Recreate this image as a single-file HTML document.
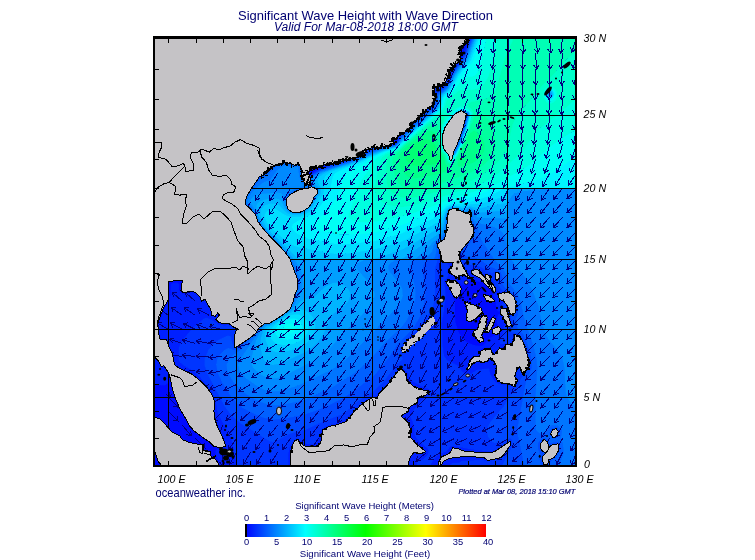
<!DOCTYPE html>
<html><head><meta charset="utf-8"><title>Significant Wave Height with Wave Direction</title><style>html,body{margin:0;padding:0;background:#fff}</style></head><body>
<svg width="755" height="560" viewBox="0 0 755 560" style="display:block">
<rect width="755" height="560" fill="#fff"/>
<defs><clipPath id="mc"><rect x="154" y="38" width="422" height="428"/></clipPath></defs>
<g clip-path="url(#mc)">
<rect x="150" y="32" width="432" height="440" fill="#0030ff"/>
<defs><clipPath id="ra"><rect x="150" y="32" width="432" height="156.5"/></clipPath><clipPath id="rb"><rect x="150" y="188.5" width="357.5" height="71"/></clipPath><clipPath id="rc"><rect x="507.5" y="188.5" width="74.5" height="283.5"/></clipPath><clipPath id="rd"><rect x="150" y="259.5" width="357.5" height="212.5"/></clipPath></defs>
<g shape-rendering="crispEdges" stroke-width="0.6" stroke-linejoin="round"><g clip-path="url(#ra)"><path fill="#000bff" stroke="#000bff" d="M468,34 469.5,35 469.3,38 462.4,56 459,62 455.3,65 450,71.5 449.2,71 449.3,68 458.7,53 465,36.1ZM447,73.3 447.5,74 447,77.8 446.4,77ZM396,136.6 396.6,137 397.1,140 396,143.5 390,144.2 387.2,143 390,139.1ZM315,166.7 321,165.8 322.8,167 318,168.5 316.8,170 309,174.6 306.2,173 307.2,170Z"/><path fill="#0020ff" stroke="#0020ff" d="M465,34.1 468,32.8 471.2,35 470.8,38 465,53.1 460.1,62 452,71 444.4,86 441,88.1 438.1,86 440.9,83 446.7,68 456.8,53 462.1,38ZM465.8,35 464,38 458.7,53 449.3,68 449.2,71 450,71.5 455.3,65 459,62 462.4,56 469.3,38 469.5,35 468,34ZM446.8,74 446.4,77 447,77.8 447.5,74 447,73.3ZM435,91 435.6,92 435.5,98 435,100 433.4,101 432,105.1 431.2,104 432,95.7 433.5,92ZM429,106.5 429.7,107 429,107.4 428.5,107ZM426,109.7 426.2,110 426,110.2 425.7,110ZM393,136.2 396,135.5 398.6,137 397,143 396,144 390,145.5 387,145.2 385.6,143 387.9,140ZM394,137 390,139.1 387.2,143 390,144.2 396,143.5 397.1,140 396.6,137ZM363,151.9 363.4,152 363,153.1 362.7,152ZM357,154.5 360,153.8 362.4,155 357,155.7 355.3,155ZM348,157.7 350.2,158 348,158.5 346.7,158ZM333,161 342,159.6 345,161 336,162.8 334.7,164 330,165 326.3,167 321,168.5 315,171.8 309,176.3 306,175.1 304.5,173 305,170 309,167.5 318.3,164ZM314.2,167 307.2,170 306.2,173 309,174.6 316.8,170 318,168.5 322.8,167 321,165.8ZM153,174.8 159,179.3 169.4,191 151.3,191Z"/><path fill="#0035ff" stroke="#0035ff" d="M465,32.9 468.8,32 471,33.4 472,35 471.7,38 465,55.7 462,60.9 453.5,71 445.6,86 444,88.1 438,92.2 436.4,95 435.1,104 433,107 417,120.3 414,119.1 428.3,104 429.7,101 430.7,92 431.8,89 438.9,83 445,68 454.9,53 460.4,38ZM464.1,35 462,38.2 456.8,53 446.7,68 440.9,83 438.1,86 441,88.1 444.4,86 452,71 460.1,62 465,53.1 470.8,38 471.2,35 468,32.8ZM433.5,92 432,95.7 431.2,104 432,105.1 433.4,101 435,100 435.5,98 435.6,92 435,91ZM428.5,107 429,107.4 429.7,107 429,106.5ZM425.7,110 426,110.2 426.2,110 426,109.7ZM153,37.5 199.3,38 201.9,44 208.7,65 213,71.7 221.1,80 225.5,86 235.2,116 247.7,140 249.5,146 249.6,149 248.8,152 246,154.8 240,156.3 234,155.6 231,154.4 227.5,152 224.8,149 217.9,137 213,132.9 188.9,125 183.5,122 174,114.2 168,110.4 162,109 153,109.8ZM153,117.9 156,121.3 159,127.5 162.3,143 164.6,149 169.4,155 180,163.7 183,167 186.7,173 194.8,191 169.4,191 159,179.3 153,174.8 151.3,191 150,191 150,180.4 152.6,152ZM411,122.6 411.8,125 411.3,128 408,129 406.2,128ZM405,129.3 405.9,131 405,131.6 403,131ZM399,133.4 402,131.8 402.7,134 399.9,137 399.2,140 396,144.5 390,146.3 384,146.6 380,146 384,143.2 390,137 393,135.2ZM391.6,137 387.9,140 385.6,143 387,145.2 390,145.5 396,144 397,143 398.6,137 396,135.5ZM369,148.5 370.7,149 368,152 366,152.8 363,155.6 360,156.3 357,158.1 351,159.4 348.4,161 333,165.2 321,169.6 312,174.9 309,178.1 306,177.6 304,176 303,173.8 303.1,170 305.8,167 309,165.5 318,162.4 348,156.2ZM362.7,152 363,153.1 363.4,152ZM355.3,155 357,155.7 362.4,155 360,153.8ZM346.7,158 348,158.5 350.2,158 348,157.7ZM332.9,161 318.3,164 309,167.5 305,170 304.5,173 306,175.1 309,176.3 315,171.8 321,168.5 326.3,167 330,165 334.7,164 336,162.8 345,161 342,159.6Z"/><path fill="#004aff" stroke="#004aff" d="M153,34.5 198.7,35 233.2,38 246.8,59 265.3,83 280.4,107 286.4,119 292.7,137 302.7,161 306,162.4 333,158.1 346.9,155 366,147.7 372,146.9 378,145.2 381,144 390,135.8 402,129 426.1,104 428,101 430,89 438,81.2 443.3,68 454.5,50 458.6,38 464.7,32 467,32 465,32.9 460.4,38 454.9,53 445,68 438.9,83 431.8,89 430.7,92 429.7,101 428.3,104 414,119 417,120.3 418.9,119 433,107 435,104.2 436.4,98 436.4,95 438,92.2 444,88.1 445.6,86 453.5,71 461.2,62 465,55.7 471.7,38 472,35 471,33.4 468.8,32 471,32 472.8,35 471.5,41 465,57.4 462.3,62 454.5,71 446.9,86 444.6,89 439.9,92 438,94.4 435,106.6 414,124.3 412.4,128 402,135.9 398.1,143 396,144.9 393,146.3 381,147.8 378.7,149 375,149.6 372,150.8 363,156.3 357,158.7 321,170.5 311.8,176 309.6,179 308.6,182 306,182.2 302.6,179 301.4,170 302.1,167 300,164.4 291,164.5 288,161.9 285,161.8 279,162.9 276,165.3 273,166.4 266.8,173 261,177.3 250.5,188 249.7,191 194.8,191 186.7,173 183,167 180,163.7 169.4,155 164.6,149 162.3,143 159,127.5 156,121.3 153,117.9 152.4,155 150,180.4 151.5,122 151.2,38ZM152.7,38 153,109.8 162,109 168,110.4 174,114.2 183.5,122 188.9,125 213,132.9 217.9,137 224.8,149 227.5,152 231,154.4 234,155.6 240,156.3 246,154.8 248.8,152 249.6,149 249.5,146 247.7,140 235.2,116 225.5,86 221.1,80 213,71.7 208.7,65 201.9,44 199.3,38 153,37.5ZM408.9,125 406.2,128 408,129 411.3,128 411.8,125 411,122.6ZM403,131 405,131.6 405.9,131 405,129.3ZM397.4,134 393,135.2 390,137 384,143.2 380,146 384,146.6 390,146.3 396,144.5 399.2,140 399.9,137 402.7,134 402,131.8ZM366.5,149 348,156.2 318,162.4 309,165.5 305.8,167 303.1,170 303,173.8 304,176 306,177.6 309,178.1 312,174.9 321,169.6 333,165.2 348.4,161 351,159.4 357,158.1 360,156.3 363,155.6 366,152.8 368,152 370.7,149 369,148.5ZM465,116 465.9,119 465,126.3 464.2,125 464.3,119ZM462,128.8 462.6,131 462,134.8 461.3,131ZM297,190.7 300,190.8 303.4,191 296.4,191Z"/><path fill="#0060ff" stroke="#0060ff" d="M153,32.2 201,33 253.8,38 261.3,50 280.5,71 294,92.4 309,113 312.5,119 316.3,128 324,153.7 324.8,155 330,155.5 337.6,155 348,152.6 363,146.9 378,143.7 383.9,140 390,134.6 396.5,131 402,126.7 426,101.7 428.1,89 430.4,86 436.7,80 442.7,65 452.3,50 456.3,38 463.5,32 464.7,32 458.6,38 454.5,50 443.3,68 438,81.2 430,89 428,101 426.1,104 402,129 390,135.8 381,144 378,145.2 372,146.9 366,147.7 346.9,155 333,158.1 306,162.4 302.7,161 292.7,137 286.4,119 280.4,107 265.3,83 246.8,59 233.2,38 198.7,35 153,34.5 151.2,38 151.5,122 151.1,149 150,163.9 150,34ZM473.5,35 472.2,41 465,59 455.5,71 447,87.4 438.7,95 437.7,101 435.8,107 415,125 413.6,128 402.2,137 398.6,143 396,145.4 393,146.7 384,148.1 375,150.9 369,153.4 363,157 351,161.7 321,171.2 313.1,176 310.8,179 310.2,182 309,183.6 306,184.4 303,181.9 301.4,179 299.8,170 300,167 297,165.5 291,165.7 288,163.9 285,163.4 283,164 276.1,167 267,175.4 264,177.5 261,178.7 251.2,191 249.7,191 250.5,188 261,177.3 266.8,173 273,166.4 276,165.3 279,162.9 288,161.9 291,164.5 300,164.4 302.1,167 301.4,170 302.6,179 306,182.2 308.6,182 309.6,179 311.8,176 321,170.5 357,158.7 363,156.3 372,150.8 375,149.6 378.7,149 381,147.8 393,146.3 396,144.9 398.1,143 402,135.9 412.4,128 414,124.3 435,106.6 438,94.4 439.9,92 444.6,89 446.9,86 454.5,71 462.3,62 465.7,56 472.5,38 472.8,35 471,32 472,32ZM468,112.7 468.3,116 466,122 465.1,128 463.3,131 462,136.7 461.1,137 459.4,140 459,143.8 457.9,143 458.7,137 460.3,134 460.6,131 462.7,125 464.1,116 465,113.3ZM465,116 464.2,125 465,126.3 465.9,119ZM461.3,131 461.5,134 462,134.8 462.6,131 462,128.8ZM456,144.7 457,146 456,149.6 455.2,149ZM453,150.9 453.9,152 453,152.8 452.4,152ZM309,186.5 312,187.1 315.7,191 293.8,191 297,189.5 303,188.4 306,188.8Z"/><path fill="#0075ff" stroke="#0075ff" d="M153,32 212.1,32 261,37 278.5,38 288.9,47 294.5,53 298.5,59 309,78.5 330.7,104 336,113 343.1,131 348,139.6 351,143.1 354,144.7 357,144.7 372.1,143 378,141.7 381,140.3 387,134.9 393.4,131 401.3,125 423,102.2 424.1,101 426.2,89 427.6,86 435,78.8 439.6,65 447.7,50 450.3,38 456,36.7 462.3,32 463.5,32 456.3,38 452.3,50 442.7,65 436.7,80 430.4,86 428.1,89 426,101.7 402,126.7 396.5,131 390,134.6 383.9,140 378,143.7 363,146.9 348,152.6 337.6,155 330,155.5 324.8,155 324,153.7 316.3,128 312.5,119 309,113 294,92.4 280.5,71 261.3,50 253.8,38 198,32.9 153,32.2 150,34 150,32ZM474,34.1 474.1,38 465.9,59 454.5,74 447,89 439.5,95 436.7,107 416.3,125 414,128.5 403.4,137 399.1,143 396,145.9 393,147.2 387,148 378,150.8 369,154.2 363,157.7 351,162.3 327,169.7 319,173 314.3,176 312,179 311.4,182 309.5,185 312,185.8 315,188 317.4,191 315.7,191 312,187.1 309,186.5 306,188.8 303,188.4 297,189.5 293.8,191 291.2,191 294,188.9 300,187.6 304.1,185 300.8,182 299,176 297.6,167 294,167.6 285,165.9 281.7,167 277.6,170 270,180.4 264,182.2 255,189.1 253.6,191 251.2,191 261,178.7 264,177.5 267,175.4 276.1,167 283,164 285,163.4 288,163.9 291,165.7 297,165.5 300,167 299.8,170 301.4,179 303,181.9 306,184.4 309,183.6 310.2,182 310.8,179 313.1,176 321,171.2 351,161.7 363,157 369,153.4 375,150.9 384,148.1 393,146.7 396,145.4 398.6,143 402.2,137 413.6,128 415,125 435.8,107 437.7,101 438.7,95 447,87.4 455.5,71 465,59 473.3,38 473.5,35 472,32 473,32ZM549,93.5 550.3,95 549,95.7 548.6,95ZM150,98 150.1,113 150,128.6 150,95.8ZM465,112.6 468,112.4 468.7,113 468.6,116 466.5,122 465.4,128 462,137.8 460.2,140 459,145 456,150.8 453,153.7 451.6,152 457.6,140 457.9,137 462.4,122 463.9,113ZM465.4,113 464.1,116 462.7,125 460.6,131 460.3,134 458.7,137 457.9,143 459,143.8 459.4,140 461.1,137 462,136.7 463.3,131 465.1,128 466.8,119 468.3,116 468.3,113ZM455.3,146 455.2,149 456,149.6 457,146 456,144.7ZM452.4,152 453,152.8 453.9,152 453,150.9Z"/><path fill="#008aff" stroke="#008aff" d="M213,32 228.2,32 273,36.3 338.6,38 344.5,68 352.8,89 357.4,110 359.5,116 365.3,125 375,135.6 378,137.3 381,136.2 398,125 420.6,101 422.1,98 423.7,86 430,77 430.5,74 429,69.1 403.7,50 398.1,44 394.6,38 450,36.5 456,35.3 461.1,32 462.3,32 456,36.7 450.3,38 447.7,50 439.6,65 435,78.8 427.6,86 426.2,89 424.1,101 423,102.2 401.3,125 393.4,131 387,134.9 381,140.3 378,141.7 372.1,143 357,144.7 354,144.7 351,143.1 348,139.6 343.1,131 336,113 330.7,104 309,78.5 298.5,59 294.5,53 288.9,47 278.5,38 261,37 212.1,32ZM474,32 475.2,35 475,38 466.9,59 455.4,74 447.9,89 440.4,95 437.7,107 417.5,125 414,129.3 404.5,137 399,143.7 396,146.4 393,147.6 385.4,149 369,155 363,158.4 351,163 328.2,170 320.6,173 315,177 313.6,179 312.8,182 313,185 317,188 318.7,191 317.4,191 315,188 312,185.8 309.5,185 311.4,182 312,179 314.3,176 321,172 351,162.3 363,157.7 369,154.2 378,150.8 396,145.9 399.1,143 403.4,137 414,128.5 416.3,125 436.7,107 439.5,95 447,89 454.5,74 465.9,59 474.1,38 474.4,35 473,32ZM549,91.8 552,95 549,96.5 548,95ZM548.6,95 549,95.7 550.3,95 549,93.5ZM465,112.2 468,112 469,113 469,116 465.8,128 459,146 456,152 453,154.6 450.9,152 456.6,140 462,119.4 462.8,113ZM463.9,113 462.4,122 457.9,137 457.6,140 451.6,152 453,153.7 456,150.8 459,145 460.2,140 462,137.8 465,129.4 466.5,122 468,118.5 468.7,113 468,112.4ZM282,166.9 285,165.9 294,167.6 297.6,167 299,176 300.8,182 304.1,185 300,187.6 294,188.9 291.2,191 253.6,191 255,189.1 264,182.2 270,180.4 277.6,170Z"/><path fill="#009fff" stroke="#009fff" d="M231,32 241.3,32 273,34.9 369,37.3 450,35 456,34.2 459.9,32 461.1,32 456,35.3 450,36.5 394.6,38 398.1,44 403.7,50 429,69.1 430.5,74 430,77 423.7,86 422.1,98 420.6,101 398,125 381,136.2 378,137.3 375,135.6 365.3,125 359.5,116 357.4,110 352.8,89 344.5,68 338.6,38 273,36.3 228.2,32ZM396.2,110 393.5,113 392.3,116 393,119.4 396,119.1 399,116.4 401.9,113 402.9,110 402,107.7 399,108.2ZM474,32 475,32 476,35 475.8,38 467.8,59 456.2,74 448.8,89 441.4,95 438.5,107 436,110 405,137.5 396,147 387,149.1 372,154.5 363,159.2 348,164.8 330.5,170 322.8,173 317.8,176 315.2,179 314.6,182 316.1,185 319,188 319.9,191 318.7,191 317,188 313,185 312.8,182 313.6,179 315.9,176 321,172.8 351,163 363,158.4 372,153.8 385.4,149 393,147.6 396,146.4 404.5,137 414,129.3 417.5,125 435,109.9 437.7,107 440.4,95 447.9,89 455.4,74 466.9,59 475,38 475.2,35ZM549,91.1 551.6,92 552.6,95 552,96.1 549,97.4 547.4,95 548.2,92ZM548.8,92 548,95 549,96.5 552,95 549.5,92ZM456,112.9 468,111.6 469.4,113 469.3,116 466.1,128 462,139.8 456,152.7 453,155.4 451.2,155 450.1,152 456,138 457.1,131 459.1,125 459,116.9 453,118.2 453,116ZM462.8,113 462,119.4 456.6,140 450.9,152 453,154.6 456,152 459,146 465,130.4 469,116 469,113 468,112Z"/><path fill="#00b5ff" stroke="#00b5ff" d="M243,32 252.2,32 276,33.9 369,36.1 450,34 459.9,32 456,34.2 450,35 369,37.3 273,34.9 241.3,32ZM476.8,35 475.8,41 469,59 457.4,74 449.6,89 447,91.9 442.6,95 441.2,98 439.3,107 437.1,110 419.6,125 396,147.5 387,149.7 372.6,155 363,159.9 348,165.6 333.2,170 325.7,173 320.7,176 318.4,179 318,182 321.1,188 321.2,191 319.9,191 319,188 316.1,185 314.6,182 315.2,179 317.8,176 322.8,173 330.5,170 348,164.8 363,159.2 372,154.5 387,149.1 396,147 405,137.5 436,110 438.5,107 441.4,95 448.8,89 456.2,74 467.8,59 475.8,38 476,35 475,32 476.1,32ZM549,90.5 552,91.3 553.2,95 552,97.2 549,98.3 546.9,95 547.5,92ZM548.2,92 547.4,95 549,97.4 552,96.1 552.6,95 551.6,92 549,91.1ZM399,108.2 402,107.7 402.9,110 401.9,113 396,119.1 393,119.4 392.3,116 393.5,113 396,110.1ZM456,112.3 468,111.2 469.8,113 469.7,116 465.6,131 459.8,146 456,153.5 450,158 449.6,155 447.6,152 450,147.3 450.3,143 450,142 444,141.3 443.7,131 446.3,128 446.5,125 451.9,119 452.4,116ZM455.9,113 453,116 453,118.2 459,116.9 459.1,125 457.1,131 456,138 450.1,152 451.2,155 453,155.4 456,152.7 462,139.8 466.1,128 469.3,116 469.4,113 468,111.6Z"/><path fill="#00caff" stroke="#00caff" d="M255,32 369,34.9 450,32.9 458.4,32 456,33.1 450,34 369,36.1 276,33.9 252.2,32ZM477,32 478.1,35 477.9,38 470.2,59 466.2,65 458.5,74 450,89.9 443.9,95 442.1,98 440.1,107 438.2,110 420.7,125 396,148 384,151.3 351,165.7 336.6,170 329.7,173 325.7,176 324.3,179 324,191 321.2,191 321.1,188 318,182 318.4,179 320.7,176 325.7,173 333.2,170 348,165.6 363,159.9 372.6,155 387,149.7 396,147.5 419.6,125 437.1,110 439.3,107 441.2,98 442.6,95 447,91.9 449.6,89 457.4,74 469,59 475.8,41 476.8,35 476.1,32ZM549,89.8 552,90.5 553.2,92 553.7,95 552,98.3 549,99 546.3,95 546.8,92ZM547.5,92 546.9,95 548.7,98 552,97.2 553.2,95 552,91.3 549,90.5ZM456,111.7 462,110.3 468,110.8 470.2,113 470,116 466,131 460.2,146 456,154.2 450,159 449,155 443.7,149 443.2,131 445.2,128 445.9,125 450.7,119 451.8,116ZM455.2,113 452.4,116 451.9,119 446.5,125 446.3,128 443.7,131 444,141.3 450,142 450.3,143 450,147.3 447.6,152 449.6,155 450,158 456,153.5 459.8,146 465.6,131 469.7,116 469.8,113 468,111.2 462,111.5 456,112.3Z"/><path fill="#00dfff" stroke="#00dfff" d="M264,32 369,34 456.2,32 450,32.9 369,34.9 282,33.1 263.1,32ZM479.4,35 478.5,41 471.8,59 470.2,62 459,75.5 450,91.5 444,96.4 443,98 441,107 439.4,110 396,148.5 384,152 370,158 363,162.1 341.6,170 335.6,173 333.2,176 330,191 324,191 324.3,179 325.7,176 329.7,173 336.6,170 351,165.7 384,151.3 396,148 420.7,125 438.2,110 440.1,107 442.1,98 443.9,95 450,89.9 458.5,74 466.2,65 470.2,59 477.9,38 478.1,35 477.2,32 478.9,32ZM549,89.1 552,89.6 553.9,92 554.3,95 552,99.2 549,99.8 546.9,98 545.6,95 546.1,92ZM546.8,92 546.3,95 547.8,98 549,99 552,98.3 553.7,95 553.2,92 552,90.5 549,89.8ZM462,109.4 465,110.5 468,110.5 470.6,113 469.7,119 466.4,131 460.5,146 456,154.9 450,160 448.4,155 443.2,149 442.7,131 445.3,125 453,113.9 456,111.2ZM454.6,113 451.8,116 450.7,119 445.9,125 445.2,128 443.2,131 443.7,149 449,155 450,159 456,154.2 460.2,146 466,131 470,116 470.2,113 468,110.8 462,110.3 456,111.7ZM570,187.7 579,186.9 579,191 543.8,191Z"/><path fill="#00f4ff" stroke="#00f4ff" d="M282,32 317.5,32 369,33.2 406.5,32 441.4,32 369,34 281.2,32ZM480,32 481.2,32 481.5,38 473.1,62 459,78.6 451.2,92 444,97.9 442.2,107 440.5,110 405,141.1 399,147.2 393,150.4 385.9,152 373,158 366,162.9 351,170 347.1,173 343.7,179 339.6,191 330,191 333.2,176 335.6,173 341.6,170 363,162.1 370,158 384,152 396,148.5 439.4,110 441,107 443,98 444,96.4 450,91.5 459,75.5 470.2,62 471.8,59 478.5,41 479.3,38 478.9,32ZM549,88.1 552.3,89 554.6,92 554.9,95 554.1,98 552,100.2 549,100.6 546,98 544.7,95 545.2,92ZM546.1,92 545.6,95 546.9,98 549,99.8 552,99.2 554.3,95 553.9,92 552,89.6 549,89.1ZM459,109 462,108.5 465,110 468,110.1 471,113 470.7,116 466.7,131 460.9,146 456.5,155 450,161.1 448.4,158 447.7,155 442.7,149 442.2,131 444.7,125 450.7,116 456,110.6ZM459.4,110 456,111.2 451.3,116 445.3,125 442.7,131 443.2,149 448.4,155 450,160 456,154.9 460.5,146 466.4,131 470.4,116 470.6,113 468,110.5 465,110.5 462,109.4ZM576,156.6 579,155.8 579,186.9 543.8,191 497.2,191 513,186 530.5,182 543,177.5 557.2,170 570,160.3Z"/><path fill="#00fff4" stroke="#00fff4" d="M318,32 369,32.3 406.5,32 369,33.2 317.5,32ZM483,32 486.7,32 486.4,38 480.7,65 477,74 474,76.4 465,78.1 462,79.9 453,92 445.9,98 443.4,107 441,111.2 423,126.1 399,148.1 396,150.1 388.3,152 377.1,158 374,161 369,170.2 360.4,182 356.1,191 339.6,191 343.7,179 347.1,173 351,170 366,162.9 373,158 385.9,152 393,150.4 399,147.2 405,141.1 440.5,110 442.2,107 444,97.9 451.2,92 459,78.6 473.1,62 481.5,38 481.2,32ZM549,87 552,87.4 553.8,89 555.6,92 556.2,95 555,98 552.4,101 549,101.9 544.7,98 543.9,95 544.2,92 546,89.3ZM547.8,89 545.2,92 544.7,95 546,98 549,100.6 552,100.2 554.1,98 554.9,95 554.6,92 552,88.7 549,88.1ZM456,109.9 459,107.9 462,107.7 468,109.1 471.8,113 469.1,125 462.8,143 457,155 453,159.7 450,161.8 449.1,161 447.1,155 442.3,149 441.3,134 442.4,128 445.6,122 451.9,113ZM457.6,110 456,110.6 450.7,116 444.7,125 442.2,131 442.7,149 447.7,155 448.4,158 450,161.1 456.5,155 460.9,146 466.7,131 470.7,116 471,113 468,110.1 465,110 462,108.5 459,109ZM576,130.5 579,129.9 579,155.8 573,158.2 555,171.3 546.5,176 537,179.9 510,186.8 497.2,191 477.4,191 494.4,185 525,167.8 534.2,161 546,149.9 555,142.6 567,134.6Z"/><path fill="#00ffdf" stroke="#00ffdf" d="M354,32 357,32 383.9,32 369,32.3 352.4,32ZM489,32 498.5,32 498.4,35 496.9,44 490.4,71 488.5,77 485.1,83 482.3,86 477,89.2 471,90.4 462,90.1 459,90.9 447,100.5 445.3,107 441.2,113 426,124.8 399,148.9 396,151 385.2,155 381.9,158 380.6,161 375.2,185 374.9,191 356.1,191 360.4,182 369,170.2 374,161 377.1,158 388.3,152 396,150.1 399,148.1 423,126.1 441,111.2 443.4,107 445.9,98 453,92 462,79.9 465,78.1 474,76.4 477,74 479.9,68 481.4,62 486,41 486.7,32ZM549,85.9 552,86.1 555,88.1 557.4,92 557.4,98 555,101.8 552,103.7 549,103.8 546,102.3 543.4,98 543.3,92 544.4,89 546,87.2ZM546.3,89 544.2,92 543.9,95 544.7,98 549,101.9 552,101.4 555,98 556.2,95 555.6,92 553.8,89 552,87.4 549,87ZM573,101 579,98.1 579,129.9 573,131.5 563.2,137 549,147.3 534.2,161 528,165.8 494.4,185 477.4,191 459,191 483,182.8 489.9,179 498,173 518.6,155 523.7,149 534,134.1 539.9,128 559.3,113ZM459,106.4 462,106.3 468,108 472.7,113 472.2,116 471,118.3 469.7,125 463.4,143 457.5,155 453,160.8 450,162.6 448.3,161 446.2,155 443.3,152 441.8,149 440.4,134 442.8,125 450.2,113 453,109.9ZM455.9,110 451.9,113 445.6,122 442.4,128 441.3,134 442.3,149 447.1,155 449.1,161 450,161.8 453,159.7 457,155 462.8,143 469.1,125 471.8,113 468,109.1 462,107.7 459,107.9Z"/><path fill="#00ffca" stroke="#00ffca" d="M501,32 514.5,32 512.8,41 504,61.9 497.4,86 494.7,92 492.3,95 489,97.4 483,99.8 471,102.4 468.2,104 469.4,107 471,107.8 472.5,110 473.5,113 473.2,116 471,121 469.5,128 468,130.6 463.9,143 459,152 458.1,155 454,161 453,162.2 450,163.3 447.4,161 445.2,155 442.3,152 440.2,146 439.3,134 440.4,128 444,119 444.2,116 441,116.5 432,121.9 424.1,128 406.5,143 399,150.3 389.4,155 387.1,158 386.6,161 386.7,179 387.6,185 390.9,191 374.9,191 375.2,185 380.6,161 381.9,158 385.2,155 396,151 399,148.9 426,124.8 441.2,113 445.3,107 447,100.5 459,90.9 462,90.1 471,90.4 477,89.2 482.3,86 485.1,83 488.5,77 490.4,71 497.5,41 498.5,32ZM458.1,107 453,109.9 450.2,113 442.8,125 440.4,134 441.8,149 443.3,152 446.2,155 448.3,161 450,162.6 453,160.8 457.5,155 463.4,143 469.7,125 472.7,113 468,108 462,106.3 459,106.4ZM576,51.4 579,50.3 579,98.1 573,101 559.3,113 540,127.9 534,134.1 523.7,149 518.6,155 498.1,173 489.9,179 477.7,185 459,191 439.5,191 466.9,182 477,177.8 486,172.4 495.8,164 503.4,155 506.6,149 512.2,125 516.5,116 537,92.3 543,84.1 550.6,77 570,55.8ZM548.8,86 546,87.2 544.4,89 543.3,92 543.4,98 546,102.3 549,103.8 552,103.7 555,101.8 557.4,98 557.4,92 555,88.1 552,86.1Z"/><path fill="#00ffb5" stroke="#00ffb5" d="M516,32 579,32 579,50.3 573,53.3 567,58.8 550.6,77 541.3,86 537,92.3 518.6,113 514.7,119 512.2,125 506.6,149 501.2,158 492,167.5 480,176.3 468,181.6 441,190.6 390.9,191 388.8,188 387,182 386.5,167 387.1,158 389.4,155 399,150.3 406.5,143 428,125 441,116.5 444.2,116 444,119 440.4,128 439.3,134 440.2,146 442.3,152 445.2,155 447.4,161 450,163.3 453,162.2 454,161 458.1,155 459,152 463.9,143 468,130.6 469.5,128 471,121 473.2,116 473.5,113 472.5,110 471,107.8 469.4,107 468.2,104 471,102.4 483,99.8 487.9,98 492,95.3 494.7,92 497.4,86 504,61.9 512.8,41 514.5,32ZM476.3,116 474,117.9 473,122 471,124.9 469.5,131 468,133.1 467,137 465,140.5 463.2,146 455.3,161 453,163.8 450,164.3 447,162.4 444.3,155 441.4,152 439.2,146 438,124.8 435,123.9 431.8,125 423,130.8 408,143 399,151.8 394.8,155 392.7,158 392.8,164 394.4,173 396.4,179 399,183.4 402,186.2 405,187.8 411,188.8 432.4,185 444,181.9 469.2,173 477,169.3 484.5,164 490.4,158 494.1,152 495.6,146 495,137 492,125.8 488.1,119 484.3,116 480,114.6 477,114.9Z"/><path fill="#00ff9f" stroke="#00ff9f" d="M477,114.9 480,114.6 483,115.4 488.1,119 492,125.8 495,137.2 495.6,146 494.1,152 490.4,158 484.5,164 477,169.3 469.2,173 444,181.9 432.4,185 411,188.8 405,187.8 402,186.2 399,183.4 396.4,179 394.4,173 392.8,164 392.7,158 394.8,155 399,151.8 408,143 423,130.8 431.8,125 435,123.9 438,124.8 439.2,146 441.4,152 444.3,155 447,162.4 450,164.3 453,163.8 455.3,161 463.2,146 465,140.5 467,137 468,133.1 469.5,131 471,124.9 473,122 474,117.9ZM429,131 423,133.8 410.5,143 404.1,149 399.5,155 398.4,158 398.6,161 400.5,167 404,173 408,176.5 414,177.9 423,176.9 441,173.2 447.8,170 447.8,167 445.3,164 444,157.5 439.8,152 437.9,143 435,133.7 432,131.1ZM470.6,134 468,137 467.3,140 465,143.1 464.3,146 462,149.1 459,156.3 457.6,164 459,166.4 465,165.6 474,161.9 479.2,158 483.5,152 484.4,149 484,143 480,134.9 477,132 474,131.2 471,132.8Z"/><path fill="#00ff8a" stroke="#00ff8a" d="M429,131 432,131.1 435,133.7 437.9,143 439.8,152 444,157.5 445.3,164 447.8,167 447.8,170 441,173.2 423,176.9 414,177.9 408,176.5 404,173 400.5,167 398.6,161 398.4,158 399.5,155 404.1,149 410.5,143 423,133.8ZM421.9,140 415.3,143 407.8,149 405.1,155 405.6,158 407.2,161 411,164.4 417,165.7 432,164.4 438,162.7 439.8,161 440.7,158 437.3,152 435,145.1 432,141.4 429,140.1ZM471,132.8 474,131.2 477,132 481.4,137 483,140.1 484.5,146 483.5,152 479.2,158 474,161.9 465,165.6 459,166.4 457.6,164 459,156.3 462,149.1 464.3,146 465,143.1 467.3,140 468,137Z"/><path fill="#00ff75" stroke="#00ff75" d="M423,139.7 428.4,140 432,141.4 435,145.1 437.3,152 440.7,158 439.8,161 438,162.7 432,164.4 417,165.7 411,164.4 407.2,161 405.6,158 405.1,155 407.8,149 415.3,143 420,140.5Z"/></g><g clip-path="url(#rb)"><path fill="#000bff" stroke="#000bff" d="M153,209.3 162,213.9 168,218.3 172.8,224 180,238 183,242.4 189,247.6 199,254 204.4,260 150.4,260 150.7,230Z"/><path fill="#0020ff" stroke="#0020ff" d="M153,188 166.9,188 183,206.8 198.4,227 213,243.2 218.6,251 223.3,260 204.4,260 199,254 189,247.6 183,242.4 180,238 172.8,224 168,218.3 162,213.9 153,209.3 150.7,230 150,260 150,201 151.7,188ZM459,259.4 459.1,260 456.5,260Z"/><path fill="#0035ff" stroke="#0035ff" d="M151.3,191 150.6,197 150,201 150,188 151.7,188ZM168,188 193.1,188 198,195.6 211.5,212 229.4,239 236.4,251 240.5,260 223.3,260 220.4,254 214.4,245 198.4,227 183,206.8 166.9,188ZM468,229.3 471,227.1 471.8,236 469.4,239 468.9,242 460.9,251 460.9,257 462,260 459.1,260 459,259.4 456.5,260 441,260 440,257 441,247.7 456,239.9Z"/><path fill="#004aff" stroke="#004aff" d="M195,188 250.5,188 249.7,191 246.8,194 246,197.8 243.6,200 243.5,203 249,209 247.3,212 245.2,218 245.3,224 247.1,230 253.5,245 258,260 240.5,260 236.4,251 229.4,239 211.5,212 198,195.6 193.1,188ZM297,190.7 303.4,191 297,195.5 288,198.3 287.9,197 290.6,194 294,193.5ZM465,217.8 468,216.4 468.5,218 471,219.9 474.3,227 475.3,233 472.9,239 465,250.7 464.3,254 465,255.3 468,256.8 474,257.6 480.2,260 462,260 460.9,257 460.9,251 468.9,242 469.4,239 471.8,236 471,227.1 456,239.9 441,247.7 440,257 441,260 438.3,260 438.3,248 437,245 446.1,236 447,230Z"/><path fill="#0060ff" stroke="#0060ff" d="M252,188 253.2,188 248.7,194 246.1,200 245.9,203 255,214 255.7,218 258.3,221 258.6,224 267.1,233 267.4,236 270,238.6 273,238.9 276.1,242 276.3,245 288,256.5 288.8,260 258,260 252.4,242 246,227 245,221 246,215 249,209 243.5,203 243.6,200 246,197.8 246.8,194 249.7,191 250.5,188ZM294,190.8 297,189.5 303,188.4 306,188.8 306.9,188 313.2,188 315.7,191 315.4,194 312.5,197 312.1,200 309.2,203 309,204.7 300,209.5 294,211.5 291,209.3 287.8,209 286.5,197 288.6,194ZM296.4,191 294,193.5 290.6,194 287.9,197 288,198.3 297,195.5 303.4,191ZM459,211.9 462,211.8 465,213.8 471,213.3 472.1,215 471.1,218 478.7,230 481,239 495,260 480.2,260 477,258.4 468,256.8 465,255.3 464.3,254 465,250.7 472.9,239 475.3,233 474.3,227 472.5,224 471.8,221 468.5,218 468,216.4 459.4,221 447,230 446.1,236 437,245 438.3,248 438.3,260 432.9,260 435,256.7 435.6,254 435.5,245 441.9,239 445.4,233 447,217.4 456.8,212Z"/><path fill="#0075ff" stroke="#0075ff" d="M252,189.4 253.2,188 256.4,188 249,196.6 247.7,203 252,207.7 255,212.3 257.1,218 262.3,227 268,233 270,236.8 273,238 277.1,242 278.1,245 288,255.1 290.8,260 288.8,260 288,256.5 276.3,245 276.1,242 273,238.9 270,238.6 267.4,236 267.1,233 258.6,224 258.3,221 255.7,218 255,214 245.9,203 246.1,200 248.7,194ZM294,188.9 298.5,188 306.9,188 306,188.8 303,188.4 297,189.5 288.6,194 286.5,197 287.8,209 291,209.3 294,211.5 300,209.5 309,204.7 309.2,203 312.1,200 312.5,197 315.4,194 315.7,191 313.2,188 315,188 317.4,191 316.7,194 314.2,197 309.9,206 306,209.7 303,210.5 300,212.6 294,212.8 291,211 288,210.1 286.9,209 285.2,197 288,192.2 291.2,191ZM450,208.7 456,208.5 459,210.7 465,212.2 471,211.3 473.3,215 473.2,218 474,219.6 477,222.3 494.6,227 500,230 503,233 505.6,239 510,256.1 510,260 495,260 481,239 478.7,230 471.1,218 472.1,215 471,213.3 465,213.8 462,211.8 456.8,212 447,217.4 445.4,233 441.9,239 435.5,245 436,251 435,256.7 432.9,260 423.8,260 432,251.6 433.4,245 435.9,242 441,238.1 444,233.2 445.3,227 446.4,215 449.2,212Z"/><path fill="#008aff" stroke="#008aff" d="M255,189.1 256.4,188 298.5,188 294,188.9 291.2,191 288,192.2 285.2,197 286.9,209 288,210.1 291,211 294,212.8 300,212.6 303,210.5 306,209.7 309,206.9 313.2,200 314.2,197 316.7,194 317.4,191 315,188 317,188 318,189.3 318.7,191 318,194 310.8,206 306,210.4 300,213.4 294,213.5 288,211.1 286,209 282,194.1 279,192.9 258,194.3 253,197 250.9,200 250.3,203 253,206 263.4,227 268.9,233 270,235.1 278.1,242 279.9,245 288.3,254 292.4,260 290.8,260 288,255.1 278.1,245 277.1,242 273,238 269.2,236 268,233 260.3,224 257.1,218 256.4,215 252,207.7 247.7,203 249,196.6ZM450,208.1 456,207.8 459,209.5 465,211 468,208.8 471,208.6 477,216.9 480,217.5 510,218.3 510,256.1 504.6,236 503,233 500,230 494.6,227 477,222.3 474,219.6 473.2,218 473.3,215 471,211.3 465,212.2 459,210.7 456,208.5 450,208.7 449.2,212 446.4,215 445.3,227 444.1,233 441,238.1 435.9,242 433.4,245 432,251.6 423.8,260 413.8,260 429,246.6 432.7,242 441,235.5 444.4,227 445.6,215 448,212 448.8,209Z"/><path fill="#009fff" stroke="#009fff" d="M318,188 319,188 319.9,191 319.4,194 316.9,197 313.8,203 308.8,209 303,213.1 300,214.2 294,214.3 288,212.1 283.3,206 282,202.1 279,199.6 276,198.9 267,199.4 261,201.1 258,203 256.7,206 256.9,209 258.6,215 260.9,221 264,226 270,233.5 279,241.7 292.6,257 293.9,260 292.4,260 288.3,254 279.9,245 278.1,242 270,235.1 268.9,233 263.4,227 253,206 250.3,203 250.9,200 253,197 258,194.3 279,192.9 282,194.1 286,209 288,211.1 294,213.5 300,213.4 306,210.4 310.8,206 318,194 318.7,191 317,188ZM450,207.4 456,207.1 460.6,209 465,209.8 468,207.6 471,207.4 477,211.8 480,212.4 510,209.8 510,218.3 480,217.5 477,216.9 471,208.6 468,208.8 465,211 459,209.5 456,207.8 450,208.1 448.8,209 448,212 445.6,215 444.4,227 440.6,236 432.7,242 429,246.6 413.8,260 399.5,260 438,233.8 442.5,227 444,222.6 444.8,215 448,209Z"/><path fill="#00b5ff" stroke="#00b5ff" d="M321,188 320.8,194 318,197.6 313.5,206 310.9,209 303,214.2 294,215.3 288,213.9 285.3,212 279,205 276,204 270,203.9 267,204.7 264,206 261.3,209 260.6,212 261.6,218 266.7,227 271.9,233 278.8,239 291,251.8 297,257.2 302.5,260 293.9,260 292.6,257 290,254 279,241.7 270,233.5 264,226 260.9,221 258.6,215 256.9,209 256.7,206 258,203 261,201.1 267,199.4 276,198.9 279,199.6 282,202.1 283.3,206 288,212.1 294,214.3 300,214.2 306,211.2 311.7,206 316.9,197 319.4,194 319.9,191 319,188ZM504,202.9 510,202 510,209.8 480,212.4 477,211.8 471,207.4 468,207.6 465,209.8 460.6,209 456,207.1 450,207.4 448,209 444.8,215 444,222.6 442.5,227 438,233.8 405,256.7 399.5,260 370.2,260 402,249.3 411,244.6 435,230.2 441,224.4 445.5,212 447.1,209 450,206.7 456,206.4 465,208.3 468,206.4 471,206.1 477,207.9 480,207.9 491.6,206Z"/><path fill="#00caff" stroke="#00caff" d="M324,188 324.5,188 323.5,194 315.9,206 312,210.5 306,214.3 300,216.9 291,217.4 285,215.1 276,209.5 273,209.1 270,209.5 266.3,212 265,215 265.2,218 267,222.4 273.5,230 287.9,242 294,245.4 300,247.3 330,253 339,253.9 345,253.6 375,249.1 396,243.2 405,239.9 432,225.4 438,221.6 441,217.9 445.6,209 450,206 456,205.3 462,206.3 471,203.9 480,203.5 489,201.2 510,194.1 510,202 480,207.9 477,207.9 471,206.1 468,206.4 465,208.3 456,206.4 450,206.7 447.1,209 445.5,212 441,224.4 435,230.2 411,244.6 402,249.3 370.2,260 302.5,260 297,257.2 291,251.8 278.8,239 271.9,233 266.7,227 261.6,218 260.8,215 261,209.9 264,206 267,204.7 270,203.9 276,204 279,205 285.3,212 288,213.9 294,215.3 303,214.2 310.9,209 313.5,206 318,197.6 320.8,194 321.1,188Z"/><path fill="#00dfff" stroke="#00dfff" d="M327,188 330.9,188 327.5,197 320.8,206 312,214.1 293.2,224 292,227 293.5,230 296.5,233 301.4,236 306,237.8 324.1,242 339,244 369,241.9 378,240.2 393,236 408,230.6 435,217.4 438,215.3 446.8,206 450,204.4 462,203.5 480,199 492,194.5 504.2,188 510,188 510,194.1 489,201.2 480,203.5 471,203.9 462,206.3 456,205.3 450,206 445.6,209 441,217.9 438,221.6 432,225.4 405,239.9 396,243.2 375,249.1 348,253.3 339,253.9 333,253.4 300,247.3 294,245.4 287.9,242 273.5,230 267,222.4 265.2,218 265,215 266.3,212 270,209.5 273,209.1 276,209.5 285,215.1 291,217.4 300,216.9 306,214.3 312,210.5 315.9,206 323.5,194 324.5,188Z"/><path fill="#00f4ff" stroke="#00f4ff" d="M330,190.9 330.9,188 340.6,188 337.1,197 333.9,203 327,211.5 315.9,221 313.8,224 314.6,227 319.7,230 329.6,233 339,234.5 348,234.6 372,233 396,226.7 408,222.6 435,211.2 447,203.4 462,199.9 477,195.2 486,191.5 492.3,188 504.2,188 492,194.5 480,199 462,203.5 450,204.4 446.8,206 438,215.3 432,218.9 402,233.1 375,240.9 351,243.6 336,243.8 309,238.7 301.4,236 296.5,233 293.5,230 292,227 293.2,224 298.2,221 306,217.7 314.8,212 325.6,200Z"/><path fill="#00fff4" stroke="#00fff4" d="M342,188 357.2,188 352.3,206 348.7,215 348.8,218 354.6,221 366,222.1 375,221.3 405,215.3 435,205.1 450,198.9 474,191.4 481.6,188 492.3,188 486,191.5 477,195.2 462,199.9 447,203.4 435,211.2 405,223.7 375,232.4 360,234.1 339,234.5 324,231.4 319.7,230 315,227.3 313.8,224 315.9,221 326.5,212 331.8,206 337.1,197 340.6,188Z"/><path fill="#00ffdf" stroke="#00ffdf" d="M357,188.7 357.2,188 374.8,188 375.7,194 377.2,197 381,200.9 384.4,203 390,205.1 402,206.8 414,204.9 438,197.9 468.2,188 481.6,188 474,191.4 450,198.9 435,205.1 408,214.5 375,221.3 366,222.1 354.6,221 348.8,218 348.7,215 352.3,206Z"/><path fill="#00ffca" stroke="#00ffca" d="M375,188 388.8,188 390.9,191 396,195 402,197.3 408,197.8 414,197.1 429,193.7 449.1,188 468.2,188 438,197.9 414,204.9 402,206.8 390,205.1 384.4,203 381,200.9 377.2,197 375.7,194Z"/><path fill="#00ffb5" stroke="#00ffb5" d="M390,188 405.5,188 411,188.8 418,188 449.1,188 429,193.7 414,197.1 408,197.8 402,197.3 396,195 390.9,191 388.8,188Z"/><path fill="#00ff9f" stroke="#00ff9f" d="M408,188 411,188 418,188 411,188.8 405.5,188Z"/></g><g clip-path="url(#rc)"><path fill="#0020ff" stroke="#0020ff" d="M507,296 512,311 510.7,314 508.2,317 509,320 510.7,323 510,324.9 507,326.5 507,311.6 508.4,311 509.5,308 507,306.3ZM516,334.8 519,338 523,350 525.5,359 526.4,368 525,368.3 522,372.1 520.3,368 519,367 518.2,368 515.2,377 517.2,380 517,383 513,387.3 510,385.3 507,385.1 507,343.1 510,343.8 513,339.3 514.9,338 515.2,335ZM510,442 510.4,443 508.3,446 507,450.3 507,442.3Z"/><path fill="#0035ff" stroke="#0035ff" d="M509.7,293 514,296 515.2,302 517,305 515.7,308 516,311 515,314 511,317 513,323 513.3,326 511.3,329 511.4,332 516,332.6 519,334.2 522.4,338 527,350 529.5,359 529.6,368 526.7,371 525,375.3 522,377.6 520.4,380 520,383 516,389.8 510.3,395 507,401.2 507,385.1 510,385.3 513,387.3 517,383 517.2,380 515.2,377 519,367 520.3,368 522,372.1 525,368.3 526.4,368 524.8,356 519,338 516.4,335 515.2,335 514.9,338 513,339.3 510,343.8 507,343.1 507,326.5 510,324.9 510.7,323 509,320 508.2,317 510.7,314 512,311 507,295.9 507,291.3ZM509.5,308 508.4,311 507,311.6 507,306.3ZM552,430.3 555,430.1 558.4,431 555,435 552,435 551.4,434ZM510,438 512.2,440 512.4,446 507,456.5 507,450.3 508.3,446 510.4,443 510,442 507,442.3 507,439.5ZM543,439.3 547.1,443 547.5,446 549,447.5 552,445.2 558,444.8 558.6,446 558.6,449 556.4,452 555.9,455 553.3,458 549,459.9 548,461 547.2,464 546,465 543,463.3 541.9,461 541.6,458 547.3,452 546,450.7 543,450.9 541,449 541.3,443 542.1,440Z"/><path fill="#004aff" stroke="#004aff" d="M509.1,290 515.8,296 517,299 518.6,305 518.3,314 515.9,320 518.1,329 522,332.4 523.9,335 526.6,341 529.7,350 531.6,359 531.9,368 525.9,383 517.7,428 517.9,434 524.2,464 524.9,470 507,470 507,456.5 512.4,446 512.6,443 512.2,440 510,438 507,439.5 507,401.2 510.3,395 516,389.8 520,383 520.4,380 522,377.6 525,375.3 526.7,371 529.6,368 529.5,359 527,350 522.4,338 519,334.2 516,332.6 511.4,332 511.3,329 513.3,326 513,323 511,317 515,314 516,311 515.7,308 517,305 515.2,302 514,296 507,291.3 507,288.7ZM552,427.8 555,427.2 558,428.7 559.9,431 558,435.7 555,438.2 552,438.3 549.3,434 549.6,431ZM551.5,431 551.4,434 552,435 555,435 558.4,431 555,430.1 552,430.3ZM543,437.7 546,438.6 549,441.9 551.3,443 555,441.7 558,441.9 559.3,443 560.2,446 559.6,452 556.3,458 551.4,461 549,465.1 546,466.8 543,466.7 540.1,464 540,460.9 538.6,458 540.1,455 537.9,449 537.9,443 540,440ZM542.1,440 541.3,443 541,449 543,450.9 546,450.7 547.3,452 541.6,458 541.9,461 543,463.3 546,465 547.2,464 548,461 549,459.9 553.3,458 555.9,455 556.4,452 558.6,449 558.6,446 558,444.8 552,445.2 549,447.5 547.5,446 547.1,443 546,441.6 543,439.3Z"/><path fill="#0060ff" stroke="#0060ff" d="M507.2,278 509.8,284 517.4,293 520.3,299 525,320.5 532.1,341 536.4,356 537.7,368 535.9,395 535.6,419 536.1,428 536.9,431 540,433.1 543,433.9 546,430.9 547.3,428 552,424.8 558,425.4 560.8,428 562.6,431 560.6,440 563.2,443 563.9,452 563.4,455 558.8,467 558.5,470 524.9,470 524.2,464 517.9,434 517.7,428 525.9,383 531.9,368 531.6,359 529.7,350 523.9,335 522,332.4 518.1,329 515.9,320 518.3,314 518.6,305 515.8,296 510,290.3 507,288.7ZM551.7,428 549.6,431 549.3,434 552,438.3 555,438.2 558,435.7 559.9,431 558,428.7 555,427.2ZM540,440 537.9,443 537.6,446 537.9,449 540.1,455 538.6,458 540,460.9 540.1,464 543,466.7 546,466.8 549,465.1 551.4,461 556.3,458 559.6,452 560.2,446 559.3,443 558,441.9 555,441.7 551.3,443 549,441.9 546,438.6 543,437.7Z"/><path fill="#0075ff" stroke="#0075ff" d="M507.5,248 510,256.1 513,261.7 525.9,278 532.4,290 538.4,305 543,326 546,334.4 549,339.6 559.9,353 562.9,359 564.8,368 565.9,392 567.8,398 570,401.5 573,404.3 579,406.9 579,470 558.5,470 558.8,467 563.4,455 563.9,452 563.2,443 560.6,440 562.6,431 560.8,428 558,425.4 552,424.8 547.3,428 546,430.9 543,433.9 540,433.1 536.9,431 536.1,428 535.6,419 535.9,395 537.7,368 536.4,356 532.1,341 525,320.5 520.3,299 517.4,293 509.8,284 507,277.7 507,245.8Z"/><path fill="#008aff" stroke="#008aff" d="M525,190.7 546,189 579,188 579,406.9 573,404.3 570,401.5 567.8,398 565.9,392 564.8,368 562.9,359 559.9,353 549,339.6 546,334.4 543,326 538.4,305 532.4,290 525.9,278 513,261.7 510,256.1 507.5,248 507,245.8 507,202.1 510,197.5 513.5,194 519,191.7Z"/><path fill="#009fff" stroke="#009fff" d="M510,188 513,188 577.1,188 546,189 522,191 516,192.7 513,194.3 507,202.1 507,188.4Z"/><path fill="#00b5ff" stroke="#00b5ff" d="M507,188.4 507,188 507.5,188Z"/></g><g clip-path="url(#rd)"><path fill="#000bff" stroke="#000bff" d="M153,257 202.2,257 205.7,263 207.2,269 208.4,284 208.3,302 207,302.3 204,299.7 201,300.1 198.2,296 195,293.5 192,292.4 183,294.1 178.5,290 178.9,284 177,282.6 171,283.6 170.4,299 169.4,302 164.8,308 162.9,314 160.1,320 158.5,326 159.5,329 159.3,335 160.7,338 162,339.5 165,339.8 168,342.6 168.8,350 171.2,353 171.2,359 174,362 174.2,365 180,370.7 182.6,371 189,375.9 196.5,383 201,388.8 213,409.3 213.7,416 215.2,422 220.1,431 220.9,434 223,437 224.2,443 225.8,446 225,447.1 222,448.1 217,449 215.4,452 216.1,455 221.7,467 219,469.9 150,470 150,384.5 165,385.1 168,382.7 168.8,377 166.4,368 165,366.5 162,366 160.6,365 158.1,362 157,359 156,358.1 153,357.4 151.8,356 150.4,317 150.5,257ZM471,277 477,281.1 480,281.8 480.9,281 479.1,278 480,276.8 486,280.4 489.9,284 494.4,290 492.6,293 493.6,296 496,299 496.2,305 498,311.4 501.2,311 501.5,314 498,314.6 497.5,317 497,323 499.3,329 499,332 495,335.5 489.6,338 483,345.7 480,346.2 474,345.4 468,343 462.2,338 458.3,332 456.1,326 454.9,320 454.6,302 451.8,293 451.6,290 449.8,287 450,285.4 453,281.8 456,283 459,282.9 462,285.1 465,284.5 469.5,281 469,278ZM480,349.6 483,347.6 489,348 495,355.9 495.8,356 495,359 492,359.1 489,356.8 483,362.2 480,360 477,360 468,367.1 468,364.7 470.3,362 470.3,359 471,358.2 474,357.2 477,357.3 478,356ZM366,461 378,461 378,467 366,467Z"/><path fill="#0020ff" stroke="#0020ff" d="M150.4,260 150.4,317 151.8,356 153,357.4 156,358.1 157,359 158.1,362 160.6,365 162,366 165,366.5 166.4,368 166.8,371 168.3,374 168.6,380 168,382.7 165,385.1 150,384.5 150,257 150.5,257ZM204,257 222,257 239,308 241.2,323 240.1,332 237,338.4 236.1,335 236.1,332 239.4,329 237,327.5 234,327.5 228,325.1 225,325.7 219,325 210,319.2 207,318.1 204,318.6 192,329 182.1,341 179.3,347 178.9,359 179.9,362 183.3,365 192,370 200.1,377 212.4,392 216,401 217.2,410 219,415.6 229.6,434 232.1,440 237.8,470 218.7,470 221.7,467 216.1,455 215.4,452 217,449 222,448.1 225,447.1 225.8,446 224.2,443 223,437 220.9,434 220.1,431 215.2,422 213.7,416 213,409.3 201,388.8 196.5,383 189,375.9 182.6,371 180,370.7 174.2,365 174,362 171.2,359 171.2,353 168.8,350 168,342.6 165,339.8 162,339.5 159.3,335 159.5,329 158.5,326 160.1,320 162.9,314 164.8,308 169.4,302 170.4,299 171,283.6 177,282.6 178.9,284 178.5,290 183,294.1 192,292.4 195,293.5 198.2,296 201,300.1 204,299.7 207,302.3 208.3,302 208.7,290 207.5,272 205.7,263 202.2,257ZM441,257 459.4,257 461.5,263 465,267.7 468,270.4 474,268.5 477,268.8 480,270.1 483,273.4 486,273.3 488.7,275 491.2,278 498,290.9 505.9,293 510,304.6 510,314.7 508.2,317 510,321.4 510,324.9 507,326.5 504,325.8 503.6,332 499.7,341 501,344.2 507,343.1 510,343.8 510,385.3 501,384.9 495,382.1 489.9,374 489,368.7 477,370.1 471,374 465,373.8 461.4,371 459,366.9 456,364.8 447,360.5 444,356.5 442.5,347 441.3,323 443.7,311 445.3,296 445.1,290 443.5,281 447,278 448,275 447,272 447.3,269 449.8,266 447,263.4 443.6,263 441,258.9 440.5,257ZM469,278 469.5,281 465,284.5 462,285.1 459,282.9 456,283 453,281.8 450,285.4 449.8,287 451.6,290 451.8,293 454.6,302 454.5,314 455.4,323 458.3,332 462,337.7 465,340.8 468,343 474,345.4 480,346.2 483,345.7 489.6,338 495,335.5 499,332 499.3,329 497,323 497.5,317 498,314.6 501.5,314 501.2,311 498,311.4 496.2,305 496,299 493.6,296 492.6,293 494.4,290 489,283 486,280.4 480,276.8 479.1,278 480.9,281 480,281.8 477,281.1 471,277ZM503.7,302 501.2,305 504,306.8 507,311.6 508.4,311 509.5,308 505.5,305ZM479.8,350 478,356 477,357.3 474,357.2 471,358.2 470.3,359 470.3,362 468,364.7 468,367.1 477,360 480,360 483,362.2 489,356.8 492,359.1 495,359 495.8,356 495,355.9 489,348 483,347.6ZM495,274.7 496.3,275 495,275.6ZM498,277.4 498.1,278 498,278.1 497.8,278ZM432,315.5 436.1,317 438,321.9 439.8,323 438,323.5 432,328.4 417,342.1 414,342.5 406.6,350 405,350.9 402,350.8 401.6,350 404.3,347 405,343.8ZM234,340.7 234.8,341 234,341.2ZM399,367.7 402,367.2 406.6,371 408.9,374 411,380.1 421.4,386 429,389.1 431.6,392 429,395.3 420.4,401 419.7,404 414,409.3 412.5,413 410.2,416 413,422 414.5,428 414.7,434 416.1,437 418.1,440 428.3,449 429,452 427.9,455 423,459.8 417,461 417.6,470 291,470 288.2,467 288,455 288.9,449 290,446 294,440 297,438.2 306,443.5 312,443.9 316.3,443 318,440.4 320.3,431 322.7,428 327,425.7 339,422.3 345,419.6 360.3,404 366,399.7 369,398.7 372,396.6 375,396.4 392.8,377ZM366,461 366,467 378,467 378,461ZM507,442.3 510,442 510,444.1 508.3,446 507,450.3 501,457.8 498,458.2 495,460.1 486,461.3 483,460.1 462,461 459,463 453,463.1 451,464 448.6,467 447.6,470 429.4,470 429.6,467 430.8,464 432.4,461 437.4,455 447,450.6 450,446.6 451.3,446 453,445.4 456,445.7 469.5,449 489,451.3 495,450.2 498,447.8 501,446.8Z"/><path fill="#0035ff" stroke="#0035ff" d="M222,257 239.8,257 252.6,287 254.3,293 254.6,299 250.3,335 249.1,338 246,339 240,345.1 234,347.1 231.3,341 231,336.8 228,335.8 219,339.8 213.5,344 208.6,350 204.9,359 204.8,365 207.8,374 225,406.5 234,417.8 243,424.8 254,431 267,439.9 270,441.3 273,441.6 276,440.8 291,433.1 306,429.4 324,420.9 342,414.2 351,407.6 357,401.7 369,393.4 372.7,392 384,381.1 396,364.7 402.6,359 399.8,353 399.5,350 400.5,347 405,340.6 417.2,329 418.9,326 424.6,320 432.5,308 433.9,302 434.8,293 434.8,269 438.2,257 440.5,257 443.6,263 447,263.4 449.8,266 447.3,269 447,272 448,275 447,278 443.5,281 445.1,290 445.3,296 443.7,311 441.3,323 442.5,347 443.8,356 447,360.5 456,364.8 459,366.9 461.4,371 465,373.8 471,374 477,370.1 489,368.7 489.9,374 495,382.1 501,384.9 510,385.3 510,395.5 504,406.2 490.6,422 487.4,428 487,431 488.4,437 492,441.6 495,442.8 498,442.5 510,438 510,442 507,442.3 501,446.8 498,447.8 495,450.2 489,451.3 471,449.2 453,445.4 450,446.6 447,450.6 444.7,452 441,452.9 437.4,455 432.4,461 430.8,464 429.6,467 429.4,470 417.6,470 417,461 423,459.8 427.9,455 429,452 428.3,449 418.1,440 416.1,437 414.7,434 414.5,428 413,422 410.2,416 412.5,413 414,409.3 419.7,404 420.4,401 429,395.3 431.6,392 429,389.1 421.4,386 411,380.1 408.9,374 406.6,371 402,367.2 399,367.7 392.8,377 375,396.4 372,396.6 369,398.7 366,399.7 360.3,404 345,419.6 339,422.3 327,425.7 322.7,428 320.3,431 318,440.4 316.3,443 312,443.9 306,443.5 297,438.2 294,440 290,446 288.9,449 288,455 288.2,467 291,470 237.8,470 232.1,440 229.6,434 219,415.6 217.2,410 216,401 212.4,392 200.1,377 192,370 183.3,365 179.9,362 178.9,359 179.3,347 182.1,341 192,329 204,318.6 207,318.1 210,319.2 219,325 225,325.7 228,325.1 234,327.5 237,327.5 239.4,329 236.1,332 236.1,335 237,338.4 238.9,335 240.1,332 241.2,326 241.1,320 239.7,311 237,301 230.7,284 224.4,263ZM430.1,317 419.6,329 405,343.8 404.3,347 401.6,350 402,350.8 405,350.9 406.6,350 414,342.5 417,342.1 432,328.4 438,323.5 439.8,323 438,321.9 436.1,317 432,315.5ZM233.9,341 234,341.2 234.8,341 234,340.7ZM462,257.7 468,264 480,266.5 492,273.3 495,271.3 498.1,272 499.8,275 500.2,278 497.8,284 502.1,290 507,291.3 510,293.3 510,304.6 505.9,293 498,290.9 491.2,278 489,275.3 486,273.3 483,273.4 480,270.1 477,268.8 474,268.5 468,270.4 465,267.7 460,260 459.4,257 461.7,257ZM494.6,275 495,275.6 496.3,275 495,274.7ZM497.8,278 498.1,278 498,277.4ZM504,301.9 505.5,305 509.5,308 508.4,311 507,311.6 504,306.8 501.2,305ZM510,314.7 510,317 510,321.4 508.2,317ZM504,325.8 507,326.5 510,324.9 510,343.8 507,343.1 500.6,344 499.7,341 503.6,332ZM510,444.1 510,450.7 503.1,464 502,470 447.6,470 448.6,467 451,464 453,463.1 459,463 462,461 483,460.1 486,461.3 495,460.1 498,458.2 501,457.8 507,450.3 508.3,446Z"/><path fill="#004aff" stroke="#004aff" d="M240,257 259.9,257 264,265.7 267,270.1 270,273.1 273,274.8 276,275.1 279,273.9 282,271.1 288,262.3 291,262.8 291.4,269 294,271.4 294.6,275 297.3,278 297.2,290 294.3,293 294,296.2 291,298.5 282,299.2 276,300.9 270,305.1 267,308.6 264,313.8 260.4,326 250.9,338 237,349.4 234,350.7 231,348.9 228,348.3 225,349.8 219.1,356 216.6,362 216.7,368 219.7,377 228,392 234,400 240,405.7 246,409.7 258,415.5 267,418.5 276,419.3 294,416.7 306,413.9 321,408.4 336,401.8 345,396.6 366,381.8 375,374.4 390,355.8 397.6,344 412.1,329 419.6,317 423.5,305 425,296 424.8,287 422.6,272 422.9,266 426,261 430.8,257 438.2,257 434.8,269 434.8,293 433.3,305 431,311 429,312.8 424.6,320 420,324.7 414.4,332 404.6,341 400.5,347 399.5,350 399.8,353 402.6,359 396,364.7 384,381.1 372.7,392 369,393.4 357,401.7 351,407.6 342,414.2 324,420.9 306,429.4 291,433.1 276,440.8 273,441.6 270,441.3 240,422.8 231,414.6 225,406.5 209.3,377 206.5,371 204.8,365 204.9,359 208.6,350 213.5,344 219,339.8 228,335.8 231,336.8 231.3,341 234,347.1 240,345.1 246,339 249.1,338 250.3,335 254.3,302 254.3,293 252.6,287ZM462,257 475.7,257 483,261.5 489,266.2 498,269.4 500.9,272 502.3,275 502.8,284 504.5,287 510,290.3 510,293.3 507,291.3 502.1,290 497.8,284 500.2,278 499.8,275 498,271.9 495,271.3 492,273.3 480,266.5 468,264 462,257.7ZM510,395.5 510,438 501,441.6 495,442.8 492,441.6 488.4,437 487,431 487.4,428 490.6,422 504,406.2ZM510,450.7 510,470 502,470 503.1,464Z"/><path fill="#0060ff" stroke="#0060ff" d="M261,257 289.1,257 292.5,263 294,269 298.5,278 298.4,290 296.1,293 295.2,296 293.2,299 292.8,302 291,306.1 282,313.4 275,317 270,323 264,323.8 252,339 240,350.6 232,356 229.1,359 227.5,362 227,368 228.9,374 232.3,380 237,386.1 243,391.6 252,397.4 261,401.9 270,404.7 276,405 285,404 300,400.9 315.8,395 342,381.4 356.9,371 366,363.5 384,343.5 402.3,326 406.6,320 411,311.5 414.3,302 415.4,293 414.2,284 410,269 410.1,266 411.3,263 413.9,260 418,257 430.8,257 426,261 422.9,266 422.6,272 424.8,287 425,296 423.5,305 419.6,317 414,326.6 408,333.7 397.6,344 390,355.8 375.4,374 368.4,380 348,394.6 339,400.2 330,404.6 315,410.8 303,414.7 285,418.2 273,419.4 264,417.7 255,414.1 243,407.9 237,403.2 231,396.3 222.7,383 218.4,374 216.4,365 217.5,359 219.1,356 224.7,350 228,348.3 231,348.9 234,350.7 237,349.4 249,339.7 253.7,335 260.4,326 264,313.8 267,308.6 270,305.1 273,302.6 279,299.8 291,298.5 294,296.2 294.3,293 297.2,290 297.3,278 294.6,275 294,271.4 291.4,269 291,262.8 288,262.3 282,271.1 279,273.9 276,275.1 273,274.8 270,273.1 264.2,266 259.9,257ZM477,257 492.7,257 505.2,272 510,284.3 510,290.3 504.5,287 502.8,284 502.8,278 500.9,272 498,269.4 489,266.2 483,261.5 475.7,257Z"/><path fill="#0075ff" stroke="#0075ff" d="M291,258.2 295.3,266 299.7,278 299.7,284 300.4,287 299.6,290 296.4,296 294.7,302 291,307.8 280,317 276,318.4 270,323.9 264,325 263.1,326 260.4,329 257.4,335 254.6,338 240.5,359 238.2,365 239.7,371 246,378.2 257.3,386 267,390.4 273,391.4 279,390.9 297,385.8 333,368.8 339,365 346.1,359 376.3,329 396,307.8 400.3,302 402.6,296 402,289.5 399,283.5 389.7,272 388.2,269 388.1,266 390.2,263 395.2,260 402.3,257 418,257 413.9,260 411.3,263 410.1,266 410.7,272 414.8,287 415.4,293 415,299 413.4,305 409.8,314 406.6,320 402.3,326 384,343.5 367.6,362 352.8,374 333,386.6 306,399.1 297,401.7 282,404.4 276,405 270,404.7 264,403.1 255,399 246,393.8 240,389.1 234.5,383 230.5,377 227.7,371 226.8,365 229.1,359 232,356 240,350.6 252,339 264,323.8 270,323 275,317 285,311.3 291.8,305 293.2,299 295.2,296 296.1,293 298.4,290 298.8,287 298.5,278 294,269 292.5,263 289.1,257 290.4,257ZM495,257 510,257 510,284.3 505.2,272 492.7,257Z"/><path fill="#008aff" stroke="#008aff" d="M291,257 292.8,257 298.9,266 301.8,272 302.9,278 302.4,290 298.6,296 296.3,302 291,309.7 279,318.5 273,321.9 270,324.7 264.4,326 261.9,329 256.2,341 252.2,356 251.5,362 252.1,365 253.7,368 260.3,374 267,377.4 270,378.1 276,378.1 285,375.2 320.6,356 330,348.1 343.7,332 359.9,317 367.9,308 373.5,299 374.3,293 373.5,290 369.8,284 356.7,269 355.7,266 357.5,263 363.8,260 374.5,257 402.3,257 395.2,260 390.2,263 388.1,266 388.2,269 389.7,272 399,283.5 401,287 402.2,290 402.6,296 400.3,302 395.9,308 373.3,332 346.1,359 339,365 328.7,371 296.4,386 279,390.9 270,391.1 264,389.4 258,386.4 246,378.2 239.7,371 238.2,365 240.5,359 254.6,338 257.4,335 260.4,329 263.1,326 264,325 270,323.9 276,318.4 280,317 291,307.8 294.7,302 296.4,296 299.6,290 300.4,287 299.7,284 299.7,278 295.3,266 290.4,257Z"/><path fill="#009fff" stroke="#009fff" d="M294,257 374.5,257 363.8,260 360,261.8 357.5,263 355.7,266 356.7,269 367.4,281 371.9,287 374.3,293 374.4,296 372,302 365.4,311 357,319.9 343.7,332 331,347 324,353.6 315,359.5 287.7,374 279,377.4 273,378.3 270,378.1 266,377 261,374.5 253.7,368 252.1,365 251.5,362 252.2,356 256.2,341 261.9,329 264.4,326 270,324.7 273,321.9 279,318.5 291,309.7 296.3,302 298.6,296 302.4,290 302.9,278 301.8,272 298.9,266 292.8,257ZM330.6,284 325.4,287 315,296.3 312,297.8 303,300.3 300,302 291.8,311 273,322.9 270,325.5 266.9,326 264,328.8 261.1,338 260.8,347 262.5,356 264,359.5 267,362.8 270,364.3 273,364.7 279,363.7 285,361.3 306,351.5 312.5,347 318.5,341 324.2,332 330.3,317 333,313.8 345,304.9 348,301.3 350.1,296 349.9,293 348.7,290 346.2,287 342,284 336,282.7Z"/><path fill="#00b5ff" stroke="#00b5ff" d="M333,283.2 339,283 345,285.9 348.7,290 349.9,293 350.1,296 348,301.3 345,304.9 333,313.8 330.3,317 324.2,332 318.5,341 312.5,347 306,351.5 285,361.3 279,363.7 273,364.7 270,364.3 267,362.8 264,359.5 262.5,356 260.8,347 261.1,338 264,328.8 266.9,326 270,325.5 273,322.9 291.8,311 300,302 303,300.3 312,297.8 315,296.3 325.4,287ZM295.2,311 288,314.7 266.7,329 265.3,335 266,341 268.8,347 273,350.9 276,351.8 282,351.8 288,350.8 297,348.2 306,343 311,338 312.9,335 314.3,332 315.2,326 314,320 312.4,317 309,313.3 303,309.9 300,309.3 297,309.8Z"/><path fill="#00caff" stroke="#00caff" d="M297,309.8 300,309.3 305.5,311 309.8,314 312.4,317 314,320 315.2,326 314.3,332 312.9,335 311,338 306,343 297,348.2 288,350.8 282,351.8 276,351.8 273,350.9 268.8,347 266,341 265.3,335 266.7,329 288,314.7ZM287.3,317 281.7,320 274,326 271.2,329 269.8,332 270,335.3 273,340.8 276,343.1 279,344.2 288,344.8 297,342.4 303.5,338 307.6,332 308.3,326 307.5,323 305.8,320 302.9,317 297,314.5 294,314.7Z"/><path fill="#00dfff" stroke="#00dfff" d="M288,316.6 294,314.7 297,314.5 300,315.3 303,317.1 305.8,320 307.5,323 308.3,326 307.6,332 306,335 303,338.5 299.6,341 294,343.5 285,344.9 279,344.2 276,343.1 273,340.8 271.1,338 269.9,335 269.8,332 271.2,329 274,326 281.7,320ZM286.5,320 281.1,323 277.8,326 275.7,329 275.4,332 276,334 279,337.4 282,338.8 288,339.6 294,338.4 299.3,335 301.5,332 302.4,329 302.2,326 300.9,323 297,319.6 291,318.6Z"/><path fill="#00f4ff" stroke="#00f4ff" d="M288,319.4 294,318.7 297,319.6 300,321.9 302.2,326 302.4,329 301.5,332 299.3,335 294,338.4 288,339.6 282,338.8 279,337.4 276.5,335 275.4,332 275.7,329 277.8,326 281.1,323ZM284.3,326 282.7,329 283.9,332 285,332.7 288,333.5 291,333.1 293.3,332 295.2,329 294.6,326 291,324 288,324.1Z"/><path fill="#00fff4" stroke="#00fff4" d="M285,325.5 288,324.1 291,324 294.6,326 295.2,329 293.3,332 291,333.1 288,333.5 285,332.7 283.9,332 282.7,329Z"/></g></g>
<path d="M168.5,411.5L178.1,421.1M173.2,420.1L178.1,421.1L177.1,416.2M168.5,397.5L178.1,407.2M173.2,406.1L178.1,407.2L177.1,402.3M168.5,384.5L169.4,398.1M166.4,394.1L169.4,398.1L171.8,393.8M168.5,329.5L156.7,322.6M161.7,322.4L156.7,322.6L159.0,327.1M168.5,315.5L157.5,307.4M162.5,307.7L157.5,307.4L159.2,312.0M182.5,425.5L191.3,435.9M186.5,434.4L191.3,435.9L190.7,430.9M182.5,356.5L169.0,354.6M173.6,352.5L169.0,354.6L172.8,357.9M182.5,343.5L169.6,339.2M174.4,338.0L169.6,339.2L172.7,343.1M182.5,329.5L170.5,323.0M175.5,322.6L170.5,323.0L172.9,327.4M182.5,315.5L171.3,307.6M176.3,307.8L171.3,307.6L173.2,312.2M182.5,301.5L172.3,292.3M177.3,293.1L172.3,292.3L173.6,297.1M195.5,438.5L205.1,448.1M200.2,447.1L205.1,448.1L204.1,443.2M195.5,370.5L181.9,371.5M185.9,368.5L181.9,371.5L186.3,373.9M195.5,356.5L182.0,355.1M186.4,352.8L182.0,355.1L185.9,358.2M195.5,343.5L182.4,339.7M187.2,338.3L182.4,339.7L185.7,343.5M195.5,329.5L183.3,323.4M188.2,322.9L183.3,323.4L185.8,327.7M195.5,315.5L184.2,307.8M189.2,307.9L184.2,307.8L186.1,312.4M195.5,301.5L185.3,292.3M190.2,293.1L185.3,292.3L186.6,297.2M209.5,384.5L196.3,388.0M199.7,384.3L196.3,388.0L201.1,389.5M209.5,370.5L196.0,372.1M199.8,368.9L196.0,372.1L200.5,374.3M209.5,356.5L195.9,356.1M200.2,353.5L195.9,356.1L200.0,358.9M209.5,343.5L196.2,340.8M200.8,338.9L196.2,340.8L199.7,344.3M209.5,329.5L196.8,324.5M201.7,323.5L196.8,324.5L199.7,328.6M209.5,315.5L197.5,309.0M202.5,308.6L197.5,309.0L199.9,313.4M222.5,452.5L222.2,466.1M219.6,461.8L222.2,466.1L225.0,462.0M222.5,425.5L218.0,438.3M216.8,433.5L218.0,438.3L221.9,435.3M222.5,411.5L213.0,421.2M214.0,416.3L213.0,421.2L217.8,420.1M222.5,397.5L210.4,403.7M212.9,399.4L210.4,403.7L215.4,404.2M222.5,384.5L209.7,389.2M212.7,385.2L209.7,389.2L214.6,390.3M222.5,370.5L209.2,373.5M212.7,369.9L209.2,373.5L213.9,375.2M222.5,356.5L208.9,357.6M212.9,354.6L208.9,357.6L213.3,360.0M222.5,343.5L208.9,342.5M213.3,340.1L208.9,342.5L212.9,345.5M222.5,329.5L209.2,326.4M214.0,324.7L209.2,326.4L212.7,330.0M236.5,452.5L229.7,464.3M229.4,459.3L229.7,464.3L234.1,462.0M236.5,438.5L228.6,449.6M228.8,444.6L228.6,449.6L233.3,447.7M236.5,425.5L227.4,435.6M228.2,430.7L227.4,435.6L232.2,434.3M236.5,411.5L226.1,420.3M227.5,415.5L226.1,420.3L231.0,419.6M236.5,397.5L225.0,404.7M227.1,400.2L225.0,404.7L230.0,404.8M236.5,384.5L224.2,390.3M226.8,386.1L224.2,390.3L229.2,391.0M236.5,370.5L223.6,374.8M226.7,370.9L223.6,374.8L228.4,376.1M236.5,356.5L223.2,359.1M226.7,355.6L223.2,359.1L227.8,361.0M250.5,452.5L243.5,464.2M243.3,459.2L243.5,464.2L248.0,462.0M250.5,438.5L242.6,449.6M242.8,444.6L242.6,449.6L247.2,447.7M250.5,425.5L241.5,435.8M242.3,430.8L241.5,435.8L246.4,434.4M250.5,411.5L240.5,420.7M241.7,415.9L240.5,420.7L245.4,419.9M250.5,397.5L239.5,405.5M241.3,400.9L239.5,405.5L244.5,405.3M250.5,384.5L238.8,391.4M241.0,386.9L238.8,391.4L243.8,391.6M250.5,370.5L238.1,376.2M240.8,372.0L238.1,376.2L243.1,376.9M250.5,356.5L237.7,361.0M240.7,357.1L237.7,361.0L242.5,362.2M250.5,343.5L237.3,346.9M240.7,343.2L237.3,346.9L242.0,348.5M250.5,202.5L242.4,214.1M242.6,209.1L242.4,214.1L247.1,212.2M263.5,452.5L256.4,464.1M256.2,459.1L256.4,464.1L260.9,461.9M263.5,438.5L255.5,449.5M255.8,444.5L255.5,449.5L260.2,447.7M263.5,425.5L254.7,435.9M255.3,430.9L254.7,435.9L259.5,434.4M263.5,411.5L253.9,421.1M254.9,416.2L253.9,421.1L258.7,420.1M263.5,397.5L253.1,406.3M254.5,401.5L253.1,406.3L258.0,405.7M263.5,384.5L252.4,392.4M254.2,387.8L252.4,392.4L257.4,392.2M263.5,370.5L251.8,377.5M254.0,373.0L251.8,377.5L256.8,377.7M263.5,356.5L251.4,362.9M253.9,358.5L251.4,362.9L256.4,363.3M263.5,343.5L251.2,349.4M253.8,345.1L251.2,349.4L256.2,350.0M263.5,329.5L251.0,334.9M253.8,330.8L251.0,334.9L255.9,335.8M263.5,217.5L255.3,228.9M255.5,223.9L255.3,228.9L259.9,227.1M263.5,202.5L255.5,214.1M255.6,209.1L255.5,214.1L260.1,212.2M263.5,188.5L255.6,200.3M255.7,195.3L255.6,200.3L260.2,198.3M277.5,452.5L270.2,464.0M270.2,459.0L270.2,464.0L274.8,461.9M277.5,438.5L269.5,449.5M269.8,444.5L269.5,449.5L274.2,447.7M277.5,425.5L268.8,436.0M269.4,431.0L268.8,436.0L273.6,434.5M277.5,411.5L268.2,421.4M269.1,416.5L268.2,421.4L273.0,420.2M277.5,397.5L267.6,406.8M268.8,402.0L267.6,406.8L272.5,406.0M277.5,384.5L267.0,393.2M268.5,388.4L267.0,393.2L272.0,392.6M277.5,370.5L266.5,378.5M268.3,373.9L266.5,378.5L271.5,378.3M277.5,356.5L266.2,364.1M268.1,359.5L266.2,364.1L271.2,364.0M277.5,343.5L266.1,351.0M268.1,346.4L266.1,351.0L271.1,351.0M277.5,329.5L266.0,336.9M268.1,332.3L266.0,336.9L271.0,336.9M277.5,231.5L269.5,243.0M269.7,238.0L269.5,243.0L274.1,241.1M277.5,217.5L269.6,229.1M269.7,224.1L269.6,229.1L274.2,227.2M277.5,202.5L269.7,214.3M269.7,209.3L269.7,214.3L274.3,212.3M277.5,188.5L269.8,200.4M269.8,195.4L269.8,200.4L274.4,198.4M277.5,173.5L269.9,185.6M269.8,180.6L269.9,185.6L274.4,183.5M290.5,438.5L282.5,449.5M282.8,444.5L282.5,449.5L287.2,447.7M290.5,425.5L282.0,436.1M282.5,431.1L282.0,436.1L286.7,434.5M290.5,411.5L281.5,421.7M282.2,416.8L281.5,421.7L286.3,420.4M290.5,397.5L281.0,407.3M282.0,402.4L281.0,407.3L285.9,406.2M290.5,384.5L280.5,393.8M281.7,388.9L280.5,393.8L285.4,392.9M290.5,370.5L280.0,379.2M281.5,374.4L280.0,379.2L285.0,378.6M290.5,356.5L279.8,364.9M281.4,360.2L279.8,364.9L284.7,364.5M290.5,343.5L279.7,351.9M281.4,347.2L279.7,351.9L284.7,351.5M290.5,329.5L279.7,337.9M281.3,333.1L279.7,337.9L284.7,337.4M290.5,315.5L279.9,324.1M281.4,319.4L279.9,324.1L284.8,323.6M290.5,245.5L282.9,257.2M282.9,252.2L282.9,257.2L287.4,255.2M290.5,231.5L283.1,243.5M283.0,238.5L283.1,243.5L287.7,241.3M290.5,217.5L283.2,229.6M283.1,224.6L283.2,229.6L287.7,227.4M290.5,188.5L283.1,200.6M282.9,195.6L283.1,200.6L287.6,198.5M290.5,173.5L283.0,185.6M282.9,180.6L283.0,185.6L287.5,183.5M304.5,438.5L296.5,449.5M296.8,444.5L296.5,449.5L301.2,447.7M304.5,425.5L296.1,436.2M296.6,431.3L296.1,436.2L300.9,434.6M304.5,411.5L295.8,421.9M296.4,417.0L295.8,421.9L300.5,420.5M304.5,397.5L295.4,407.6M296.2,402.7L295.4,407.6L300.2,406.3M304.5,384.5L295.0,394.3M296.0,389.4L295.0,394.3L299.9,393.2M304.5,370.5L294.6,379.9M295.8,375.0L294.6,379.9L299.5,379.0M304.5,356.5L294.4,365.7M295.7,360.9L294.4,365.7L299.3,364.9M304.5,343.5L294.4,352.7M295.7,347.9L294.4,352.7L299.3,351.9M304.5,329.5L294.4,338.7M295.7,333.9L294.4,338.7L299.3,337.9M304.5,315.5L294.6,325.0M295.7,320.1L294.6,325.0L299.5,324.1M304.5,301.5L294.8,311.2M295.8,306.3L294.8,311.2L299.7,310.2M304.5,287.5L295.2,297.7M296.0,292.8L295.2,297.7L300.1,296.4M304.5,273.5L295.9,284.4M296.4,279.4L295.9,284.4L300.7,282.8M304.5,259.5L296.7,271.0M296.8,266.0L296.7,271.0L301.3,269.1M304.5,245.5L297.3,257.5M297.1,252.5L297.3,257.5L301.8,255.3M304.5,231.5L297.8,243.9M297.4,238.9L297.8,243.9L302.2,241.5M304.5,217.5L297.9,230.0M297.5,225.1L297.9,230.0L302.3,227.6M318.5,438.5L310.6,449.6M310.8,444.6L310.6,449.6L315.2,447.7M318.5,425.5L310.3,436.4M310.7,431.4L310.3,436.4L315.0,434.7M318.5,411.5L310.0,422.2M310.5,417.2L310.0,422.2L314.8,420.6M318.5,397.5L309.8,408.0M310.4,403.0L309.8,408.0L314.5,406.5M318.5,384.5L309.5,394.7M310.2,389.8L309.5,394.7L314.3,393.4M318.5,370.5L309.2,380.5M310.1,375.6L309.2,380.5L314.0,379.3M318.5,356.5L309.1,366.4M310.0,361.5L309.1,366.4L313.9,365.2M318.5,343.5L309.1,353.4M310.0,348.5L309.1,353.4L314.0,352.3M318.5,329.5L309.1,339.5M310.0,334.6L309.1,339.5L314.0,338.3M318.5,315.5L309.2,325.7M310.1,320.7L309.2,325.7L314.1,324.4M318.5,301.5L309.4,311.8M310.1,306.9L309.4,311.8L314.2,310.5M318.5,287.5L309.7,298.2M310.3,293.2L309.7,298.2L314.5,296.7M318.5,273.5L310.3,284.7M310.6,279.7L310.3,284.7L315.0,282.9M318.5,259.5L310.9,271.2M310.9,266.2L310.9,271.2L315.5,269.2M318.5,245.5L311.4,257.6M311.2,252.6L311.4,257.6L315.9,255.3M318.5,231.5L311.9,243.9M311.4,238.9L311.9,243.9L316.3,241.5M318.5,217.5L311.9,230.0M311.4,225.0L311.9,230.0L316.3,227.6M318.5,202.5L311.5,214.8M311.2,209.8L311.5,214.8L315.9,212.5M318.5,188.5L311.1,200.6M310.9,195.6L311.1,200.6L315.6,198.5M318.5,173.5L310.8,185.5M310.8,180.5L310.8,185.5L315.4,183.5M331.5,411.5L323.3,422.4M323.7,417.4L323.3,422.4L328.0,420.7M331.5,397.5L323.1,408.3M323.6,403.3L323.1,408.3L327.9,406.6M331.5,384.5L323.0,395.2M323.5,390.2L323.0,395.2L327.7,393.6M331.5,370.5L322.8,381.1M323.4,376.1L322.8,381.1L327.6,379.5M331.5,356.5L322.8,367.0M323.4,362.1L322.8,367.0L327.6,365.5M331.5,343.5L322.8,354.1M323.4,349.2L322.8,354.1L327.6,352.6M331.5,329.5L322.9,340.2M323.4,335.2L322.9,340.2L327.7,338.6M331.5,315.5L322.9,326.3M323.4,321.3L322.9,326.3L327.7,324.7M331.5,301.5L323.0,312.3M323.4,307.4L323.0,312.3L327.7,310.7M331.5,287.5L323.2,298.6M323.6,293.6L323.2,298.6L327.9,296.9M331.5,273.5L323.7,285.0M323.8,280.0L323.7,285.0L328.3,283.0M331.5,259.5L324.2,271.4M324.1,266.4L324.2,271.4L328.7,269.2M331.5,245.5L324.5,257.7M324.3,252.7L324.5,257.7L329.0,255.4M331.5,231.5L324.9,243.9M324.5,239.0L324.9,243.9L329.3,241.5M331.5,217.5L324.8,230.0M324.4,225.0L324.8,230.0L329.2,227.6M331.5,202.5L324.3,214.7M324.1,209.7L324.3,214.7L328.8,212.5M331.5,188.5L323.8,200.4M323.8,195.4L323.8,200.4L328.4,198.4M331.5,173.5L323.6,185.3M323.6,180.3L323.6,185.3L328.2,183.4M345.5,411.5L337.5,422.5M337.8,417.5L337.5,422.5L342.2,420.7M345.5,397.5L337.4,408.5M337.7,403.5L337.4,408.5L342.1,406.7M345.5,384.5L337.4,395.5M337.7,390.5L337.4,395.5L342.1,393.7M345.5,370.5L337.4,381.5M337.7,376.5L337.4,381.5L342.0,379.7M345.5,356.5L337.4,367.5M337.7,362.6L337.4,367.5L342.1,365.8M345.5,343.5L337.5,354.7M337.8,349.7L337.5,354.7L342.2,352.8M345.5,329.5L337.7,340.8M337.8,335.8L337.7,340.8L342.3,338.9M345.5,315.5L337.7,326.8M337.8,321.8L337.7,326.8L342.3,324.9M345.5,301.5L337.7,312.9M337.8,307.9L337.7,312.9L342.3,311.0M345.5,287.5L337.8,299.0M337.9,294.0L337.8,299.0L342.4,297.0M345.5,273.5L338.1,285.3M338.0,280.3L338.1,285.3L342.7,283.2M345.5,259.5L338.5,271.5M338.2,266.5L338.5,271.5L342.9,269.3M345.5,245.5L338.7,257.8M338.4,252.8L338.7,257.8L343.1,255.4M345.5,231.5L339.0,244.0M338.5,239.0L339.0,244.0L343.3,241.5M345.5,217.5L338.8,229.9M338.4,225.0L338.8,229.9L343.2,227.5M345.5,202.5L338.2,214.6M338.0,209.6L338.2,214.6L342.7,212.4M345.5,188.5L337.6,200.3M337.7,195.3L337.6,200.3L342.2,198.3M345.5,173.5L337.4,185.2M337.5,180.2L337.4,185.2L342.0,183.3M358.5,397.5L350.5,408.6M350.8,403.6L350.5,408.6L355.2,406.8M358.5,384.5L350.7,395.7M350.8,390.7L350.7,395.7L355.3,393.8M358.5,370.5L350.8,381.8M350.9,376.8L350.8,381.8L355.4,379.9M358.5,356.5L350.9,367.9M351.0,362.9L350.9,367.9L355.5,365.9M358.5,343.5L351.1,355.1M351.1,350.1L351.1,355.1L355.7,353.0M358.5,329.5L351.4,341.3M351.2,336.3L351.4,341.3L355.9,339.1M358.5,315.5L351.4,327.3M351.2,322.3L351.4,327.3L355.9,325.1M358.5,301.5L351.4,313.3M351.2,308.3L351.4,313.3L355.9,311.2M358.5,287.5L351.5,299.4M351.2,294.4L351.5,299.4L355.9,297.2M358.5,273.5L351.6,285.6M351.3,280.6L351.6,285.6L356.1,283.3M358.5,259.5L351.8,271.7M351.4,266.8L351.8,271.7L356.2,269.4M358.5,245.5L351.9,257.9M351.5,252.9L351.9,257.9L356.3,255.5M358.5,231.5L352.0,244.0M351.5,239.0L352.0,244.0L356.4,241.5M358.5,217.5L351.8,229.9M351.4,224.9L351.8,229.9L356.2,227.5M358.5,202.5L351.1,214.6M351.0,209.6L351.1,214.6L355.6,212.4M358.5,188.5L350.5,200.2M350.6,195.2L350.5,200.2L355.1,198.3M358.5,173.5L350.1,185.0M350.4,180.0L350.1,185.0L354.8,183.2M358.5,159.5L349.8,170.8M350.2,165.8L349.8,170.8L354.6,169.1M372.5,384.5L364.9,395.9M365.0,390.9L364.9,395.9L369.5,393.9M372.5,370.5L365.2,382.0M365.1,377.0L365.2,382.0L369.7,380.0M372.5,356.5L365.5,368.2M365.3,363.3L365.5,368.2L369.9,366.1M372.5,343.5L365.8,355.5M365.5,350.5L365.8,355.5L370.2,353.1M372.5,329.5L366.1,341.7M365.6,336.7L366.1,341.7L370.5,339.2M372.5,315.5L366.1,327.7M365.6,322.8L366.1,327.7L370.5,325.3M372.5,301.5L366.1,313.8M365.6,308.8L366.1,313.8L370.5,311.3M372.5,287.5L366.1,299.8M365.6,294.8L366.1,299.8L370.5,297.4M372.5,273.5L366.1,285.9M365.6,280.9L366.1,285.9L370.5,283.4M372.5,259.5L366.1,271.9M365.6,267.0L366.1,271.9L370.5,269.4M372.5,245.5L366.1,258.0M365.6,253.0L366.1,258.0L370.4,255.5M372.5,231.5L366.1,244.1M365.6,239.1L366.1,244.1L370.4,241.6M372.5,217.5L365.7,229.9M365.4,224.9L365.7,229.9L370.1,227.5M372.5,202.5L365.0,214.5M364.9,209.5L365.0,214.5L369.5,212.4M372.5,188.5L364.3,200.1M364.5,195.1L364.3,200.1L369.0,198.2M372.5,173.5L363.9,184.8M364.3,179.8L363.9,184.8L368.6,183.1M372.5,159.5L363.6,170.6M364.1,165.6L363.6,170.6L368.3,169.0M386.5,370.5L379.6,382.3M379.4,377.3L379.6,382.3L384.1,380.1M386.5,356.5L380.1,368.6M379.6,363.6L380.1,368.6L384.5,366.2M386.5,343.5L380.5,355.9M379.9,350.9L380.5,355.9L384.8,353.3M386.5,329.5L381.0,342.1M380.2,337.2L381.0,342.1L385.1,339.4M386.5,315.5L381.1,328.2M380.2,323.3L381.1,328.2L385.2,325.4M386.5,301.5L381.2,314.3M380.3,309.4L381.2,314.3L385.3,311.5M386.5,287.5L381.2,300.3M380.3,295.4L381.2,300.3L385.3,297.5M386.5,273.5L381.1,286.4M380.2,281.4L381.1,286.4L385.2,283.5M386.5,259.5L381.0,272.4M380.1,267.4L381.0,272.4L385.1,269.6M386.5,245.5L380.8,258.3M380.0,253.4L380.8,258.3L385.0,255.6M386.5,231.5L380.6,244.3M379.9,239.4L380.6,244.3L384.8,241.6M386.5,217.5L380.1,230.1M379.6,225.2L380.1,230.1L384.5,227.6M386.5,202.5L379.4,214.7M379.1,209.8L379.4,214.7L383.8,212.5M386.5,188.5L378.6,200.3M378.7,195.3L378.6,200.3L383.2,198.3M386.5,173.5L378.1,185.0M378.4,180.0L378.1,185.0L382.8,183.2M386.5,159.5L377.6,170.6M378.1,165.6L377.6,170.6L382.4,169.0M399.5,356.5L393.7,368.9M393.0,364.0L393.7,368.9L398.0,366.3M399.5,343.5L394.3,356.2M393.4,351.3L394.3,356.2L398.4,353.4M399.5,329.5L394.8,342.5M393.7,337.6L394.8,342.5L398.8,339.4M399.5,315.5L395.1,328.6M393.8,323.8L395.1,328.6L399.0,325.5M399.5,301.5L395.3,314.7M394.0,309.9L395.3,314.7L399.2,311.6M399.5,287.5L395.3,300.8M394.0,295.9L395.3,300.8L399.1,297.6M399.5,273.5L395.1,286.8M393.8,281.9L395.1,286.8L399.0,283.6M399.5,259.5L394.8,272.7M393.7,267.9L394.8,272.7L398.8,269.7M399.5,245.5L394.5,258.7M393.4,253.8L394.5,258.7L398.5,255.7M399.5,231.5L394.1,244.6M393.2,239.7L394.1,244.6L398.3,241.7M399.5,217.5L393.5,230.4M392.8,225.4L393.5,230.4L397.8,227.7M399.5,202.5L392.7,215.0M392.3,210.0L392.7,215.0L397.1,212.6M399.5,188.5L391.9,200.5M391.9,195.5L391.9,200.5L396.5,198.4M399.5,173.5L391.3,185.1M391.5,180.1L391.3,185.1L395.9,183.3M399.5,159.5L390.7,170.7M391.1,165.7L390.7,170.7L395.4,169.1M399.5,144.5L390.4,155.5M391.0,150.5L390.4,155.5L395.2,154.0M413.5,425.5L404.8,436.0M405.4,431.0L404.8,436.0L409.6,434.5M413.5,411.5L405.0,422.1M405.5,417.2L405.0,422.1L409.7,420.6M413.5,370.5L407.2,382.6M406.7,377.7L407.2,382.6L411.6,380.2M413.5,356.5L408.0,369.1M407.2,364.1L408.0,369.1L412.2,366.3M413.5,329.5L409.2,342.6M407.9,337.8L409.2,342.6L413.1,339.5M413.5,315.5L409.2,328.7M407.9,323.8L409.2,328.7L413.1,325.5M413.5,301.5L409.3,314.7M408.0,309.9L409.3,314.7L413.2,311.6M413.5,287.5L409.4,300.8M408.0,296.0L409.4,300.8L413.2,297.6M413.5,273.5L409.6,286.9M408.1,282.1L409.6,286.9L413.4,283.7M413.5,259.5L409.8,273.0M408.2,268.3L409.8,273.0L413.5,269.7M413.5,245.5L409.3,259.0M407.9,254.1L409.3,259.0L413.1,255.8M413.5,231.5L408.8,244.9M407.7,240.0L408.8,244.9L412.8,241.8M413.5,217.5L408.2,230.7M407.2,225.7L408.2,230.7L412.3,227.8M413.5,202.5L407.3,215.3M406.7,210.3L407.3,215.3L411.6,212.7M413.5,188.5L406.4,200.9M406.1,195.9L406.4,200.9L410.9,198.6M413.5,173.5L405.7,185.4M405.7,180.4L405.7,185.4L410.2,183.4M413.5,159.5L405.0,170.9M405.3,165.9L405.0,170.9L409.6,169.2M413.5,144.5L404.6,155.7M405.1,150.7L404.6,155.7L409.4,154.1M413.5,129.5L404.6,140.8M405.1,135.8L404.6,140.8L409.3,139.2M426.5,452.5L416.1,461.2M417.5,456.5L416.1,461.2L421.0,460.6M426.5,438.5L416.1,447.2M417.5,442.5L416.1,447.2L421.0,446.6M426.5,425.5L416.3,434.5M417.6,429.7L416.3,434.5L421.2,433.8M426.5,411.5L416.7,420.9M417.8,416.0L416.7,420.9L421.6,420.0M426.5,397.5L417.1,407.3M418.0,402.4L417.1,407.3L421.9,406.2M426.5,384.5L418.4,395.5M418.7,390.5L418.4,395.5L423.1,393.7M426.5,370.5L420.0,382.5M419.6,377.5L420.0,382.5L424.4,380.1M426.5,356.5L421.0,369.1M420.2,364.1L421.0,369.1L425.2,366.3M426.5,343.5L421.5,356.3M420.5,351.4L421.5,356.3L425.6,353.4M426.5,315.5L421.6,328.4M420.5,323.5L421.6,328.4L425.6,325.5M426.5,301.5L421.2,314.3M420.3,309.4L421.2,314.3L425.3,311.5M426.5,287.5L421.5,300.5M420.5,295.6L421.5,300.5L425.5,297.5M426.5,273.5L422.6,286.9M421.1,282.1L422.6,286.9L426.4,283.7M426.5,259.5L423.7,273.3M421.8,268.6L423.7,273.3L427.2,269.7M426.5,245.5L423.2,259.2M421.5,254.5L423.2,259.2L426.8,255.8M426.5,231.5L422.8,245.2M421.2,240.4L422.8,245.2L426.5,241.8M426.5,217.5L422.0,231.0M420.8,226.2L422.0,231.0L425.9,227.9M426.5,202.5L421.0,215.7M420.1,210.8L421.0,215.7L425.2,212.8M426.5,188.5L420.1,201.3M419.5,196.3L420.1,201.3L424.4,198.7M426.5,173.5L419.2,185.8M419.0,180.8L419.2,185.8L423.7,183.6M426.5,159.5L418.4,171.3M418.6,166.3L418.4,171.3L423.0,169.4M426.5,144.5L418.1,156.1M418.3,151.1L418.1,156.1L422.7,154.3M426.5,129.5L418.1,141.2M418.3,136.2L418.1,141.2L422.7,139.4M426.5,114.5L418.1,126.3M418.3,121.3L418.1,126.3L422.7,124.4M440.5,452.5L428.7,459.3M431.0,454.8L428.7,459.3L433.7,459.6M440.5,438.5L428.7,445.3M431.0,440.8L428.7,445.3L433.7,445.6M440.5,425.5L429.0,432.7M431.1,428.2L429.0,432.7L434.0,432.8M440.5,411.5L429.5,419.5M431.3,414.8L429.5,419.5L434.5,419.2M440.5,397.5L430.1,406.3M431.5,401.5L430.1,406.3L435.0,405.7M440.5,384.5L431.8,395.0M432.4,390.0L431.8,395.0L436.5,393.5M440.5,370.5L433.7,382.4M433.4,377.4L433.7,382.4L438.2,380.1M440.5,356.5L435.0,369.0M434.2,364.1L435.0,369.0L439.2,366.3M440.5,343.5L435.4,356.3M434.4,351.4L435.4,356.3L439.5,353.4M440.5,329.5L435.8,342.5M434.7,337.6L435.8,342.5L439.8,339.4M440.5,315.5L435.0,328.2M434.2,323.2L435.0,328.2L439.1,325.4M440.5,301.5L434.1,313.8M433.6,308.8L434.1,313.8L438.5,311.3M440.5,287.5L434.6,300.1M433.9,295.1L434.6,300.1L438.9,297.4M440.5,273.5L436.6,286.9M435.1,282.1L436.6,286.9L440.4,283.7M440.5,259.5L438.6,273.4M436.5,268.9L438.6,273.4L441.9,269.7M440.5,231.5L437.7,245.4M435.8,240.8L437.7,245.4L441.2,241.8M440.5,217.5L436.9,231.3M435.3,226.5L436.9,231.3L440.6,227.9M440.5,202.5L435.8,216.0M434.6,211.1L435.8,216.0L439.8,212.9M440.5,188.5L434.8,201.6M433.9,196.7L434.8,201.6L438.9,198.9M440.5,173.5L433.8,186.2M433.4,181.2L433.8,186.2L438.2,183.7M440.5,159.5L432.9,171.7M432.8,166.7L432.9,171.7L437.5,169.6M440.5,144.5L432.5,156.5M432.6,151.5L432.5,156.5L437.1,154.5M440.5,129.5L432.5,141.5M432.6,136.5L432.5,141.5L437.1,139.6M440.5,114.5L432.5,126.6M432.5,121.6L432.5,126.6L437.1,124.6M440.5,99.5L432.8,112.0M432.7,107.0L432.8,112.0L437.3,109.8M454.5,438.5L442.3,444.6M444.9,440.2L442.3,444.6L447.3,445.1M454.5,425.5L442.4,431.8M444.9,427.5L442.4,431.8L447.4,432.3M454.5,411.5L442.8,418.5M445.0,414.0L442.8,418.5L447.8,418.7M454.5,397.5L443.2,405.1M445.2,400.5L443.2,405.1L448.2,405.0M454.5,384.5L444.6,393.9M445.8,389.0L444.6,393.9L449.5,393.0M454.5,370.5L446.2,381.4M446.6,376.4L446.2,381.4L450.9,379.7M454.5,356.5L447.4,368.2M447.3,363.2L447.4,368.2L451.9,366.0M454.5,343.5L448.1,355.7M447.6,350.7L448.1,355.7L452.5,353.2M454.5,329.5L448.8,342.0M448.1,337.1L448.8,342.0L453.0,339.3M454.5,315.5L448.0,327.7M447.6,322.7L448.0,327.7L452.4,325.3M454.5,301.5L447.3,313.3M447.1,308.3L447.3,313.3L451.8,311.1M454.5,202.5L449.2,215.7M448.2,210.8L449.2,215.7L453.3,212.9M454.5,188.5L449.0,201.7M448.1,196.8L449.0,201.7L453.1,198.9M454.5,173.5L448.5,186.6M447.8,181.6L448.5,186.6L452.7,183.9M454.5,159.5L448.0,172.4M447.5,167.4L448.0,172.4L452.3,169.9M454.5,99.5L448.0,112.8M447.4,107.8L448.0,112.8L452.3,110.2M454.5,84.5L448.2,98.0M447.5,93.1L448.2,98.0L452.4,95.4M454.5,69.5L448.5,83.3M447.7,78.4L448.5,83.3L452.7,80.6M467.5,438.5L455.0,443.8M457.8,439.6L455.0,443.8L459.9,444.7M467.5,425.5L455.0,430.9M457.8,426.7L455.0,430.9L459.9,431.7M467.5,411.5L455.2,417.4M457.8,413.1L455.2,417.4L460.2,418.0M467.5,397.5L455.5,403.9M457.9,399.5L455.5,403.9L460.5,404.3M467.5,384.5L456.5,392.6M458.3,387.9L456.5,392.6L461.5,392.3M467.5,370.5L457.8,380.2M458.9,375.3L457.8,380.2L462.7,379.1M467.5,356.5L459.0,367.2M459.5,362.2L459.0,367.2L463.7,365.6M467.5,343.5L459.9,354.9M459.9,349.9L459.9,354.9L464.5,352.9M467.5,329.5L460.8,341.5M460.5,336.5L460.8,341.5L465.2,339.2M467.5,287.5L459.3,298.7M459.6,293.7L459.3,298.7L464.0,296.9M467.5,259.5L460.3,271.4M460.1,266.4L460.3,271.4L464.8,269.3M467.5,245.5L460.4,257.6M460.2,252.6L460.4,257.6L464.9,255.3M467.5,202.5L461.6,215.5M460.8,210.5L461.6,215.5L465.8,212.8M467.5,188.5L462.3,201.9M461.3,197.0L462.3,201.9L466.3,198.9M467.5,173.5L462.2,186.9M461.2,182.0L462.2,186.9L466.3,184.0M467.5,159.5L462.2,173.0M461.2,168.1L462.2,173.0L466.2,170.1M467.5,144.5L462.1,158.1M461.2,153.2L462.1,158.1L466.2,155.2M467.5,129.5L462.1,143.2M461.1,138.3L462.1,143.2L466.2,140.3M467.5,114.5L462.1,128.3M461.1,123.4L462.1,128.3L466.2,125.4M467.5,99.5L462.2,113.4M461.2,108.6L462.2,113.4L466.2,110.5M467.5,84.5L462.3,98.6M461.2,93.7L462.3,98.6L466.3,95.6M467.5,69.5L462.6,83.8M461.3,79.0L462.6,83.8L466.5,80.8M467.5,53.5L463.0,68.2M461.7,63.4L463.0,68.2L466.9,65.0M481.5,438.5L469.0,443.8M471.8,439.7L469.0,443.8L473.9,444.7M481.5,425.5L469.0,430.8M471.8,426.6L469.0,430.8L473.9,431.7M481.5,411.5L469.1,417.1M471.8,412.9L469.1,417.1L474.1,417.9M481.5,397.5L469.3,403.5M471.8,399.2L469.3,403.5L474.2,404.1M481.5,384.5L470.1,391.9M472.1,387.3L470.1,391.9L475.1,391.9M481.5,370.5L471.0,379.2M472.5,374.5L471.0,379.2L476.0,378.6M481.5,301.5L472.8,312.2M473.3,307.2L472.8,312.2L477.6,310.7M481.5,287.5L472.6,298.1M473.2,293.1L472.6,298.1L477.4,296.6M481.5,259.5L472.9,270.4M473.3,265.4L472.9,270.4L477.6,268.8M481.5,245.5L473.0,256.6M473.4,251.6L473.0,256.6L477.8,254.9M481.5,231.5L473.2,242.8M473.5,237.8L473.2,242.8L477.9,241.0M481.5,217.5L473.8,229.3M473.8,224.3L473.8,229.3L478.4,227.3M481.5,202.5L475.0,215.1M474.5,210.1L475.0,215.1L479.3,212.6M481.5,188.5L476.1,201.8M475.2,196.9L476.1,201.8L480.2,198.9M481.5,173.5L476.6,187.1M475.4,182.2L476.6,187.1L480.6,184.1M481.5,159.5L477.0,173.3M475.7,168.5L477.0,173.3L480.9,170.2M481.5,144.5L477.3,158.5M475.9,153.7L477.3,158.5L481.1,155.3M481.5,129.5L477.4,143.7M475.9,138.9L477.4,143.7L481.2,140.4M481.5,114.5L477.5,128.8M476.0,124.1L477.5,128.8L481.2,125.5M481.5,99.5L477.5,114.0M476.0,109.2L477.5,114.0L481.3,110.6M481.5,84.5L477.6,99.1M476.0,94.4L477.6,99.1L481.3,95.8M481.5,69.5L477.8,84.3M476.2,79.6L477.8,84.3L481.5,80.9M481.5,53.5L478.2,68.6M476.4,63.9L478.2,68.6L481.8,65.1M481.5,37.5L478.6,52.8M476.7,48.2L478.6,52.8L482.1,49.2M494.5,438.5L482.4,444.7M484.9,440.3L482.4,444.7L487.4,445.2M494.5,425.5L482.3,431.6M484.9,427.3L482.3,431.6L487.3,432.1M494.5,411.5L482.4,417.7M484.9,413.4L482.4,417.7L487.4,418.2M494.5,397.5L482.5,403.9M484.9,399.5L482.5,403.9L487.5,404.3M494.5,384.5L483.0,391.8M485.1,387.3L483.0,391.8L488.0,391.9M494.5,343.5L485.0,353.4M486.0,348.4L485.0,353.4L489.9,352.2M494.5,315.5L485.6,325.9M486.2,321.0L485.6,325.9L490.4,324.5M494.5,259.5L485.4,269.9M486.1,265.0L485.4,269.9L490.2,268.6M494.5,245.5L485.4,256.1M486.1,251.1L485.4,256.1L490.2,254.6M494.5,231.5L485.5,242.2M486.1,237.2L485.5,242.2L490.3,240.7M494.5,217.5L486.1,228.8M486.4,223.8L486.1,228.8L490.8,227.0M494.5,202.5L487.3,214.7M487.1,209.7L487.3,214.7L491.8,212.5M494.5,188.5L488.6,201.6M487.9,196.6L488.6,201.6L492.8,198.8M494.5,173.5L489.5,187.1M488.4,182.2L489.5,187.1L493.5,184.1M494.5,159.5L490.5,173.5M489.0,168.7L490.5,173.5L494.2,170.2M494.5,144.5L491.1,158.8M489.4,154.1L491.1,158.8L494.7,155.4M494.5,129.5L491.4,144.0M489.6,139.3L491.4,144.0L495.0,140.5M494.5,114.5L491.8,129.2M489.9,124.6L491.8,129.2L495.2,125.6M494.5,99.5L491.9,114.4M490.0,109.8L491.9,114.4L495.3,110.7M494.5,84.5L492.1,99.5M490.1,95.0L492.1,99.5L495.5,95.8M494.5,69.5L492.3,84.7M490.2,80.2L492.3,84.7L495.6,80.9M494.5,53.5L492.6,68.9M490.4,64.4L492.6,68.9L495.8,65.1M494.5,37.5L492.9,53.1M490.6,48.7L492.9,53.1L496.1,49.2M508.5,452.5L497.1,459.9M499.1,455.3L497.1,459.9L502.1,459.9M508.5,438.5L496.8,445.5M499.0,441.0L496.8,445.5L501.8,445.7M508.5,425.5L496.7,432.3M499.0,427.9L496.7,432.3L501.7,432.6M508.5,411.5L496.7,418.3M499.0,413.9L496.7,418.3L501.7,418.6M508.5,397.5L496.7,404.3M499.0,399.9L496.7,404.3L501.7,404.6M508.5,343.5L498.2,352.5M499.6,347.7L498.2,352.5L503.2,351.8M508.5,329.5L498.9,339.3M499.9,334.4L498.9,339.3L503.8,338.2M508.5,287.5L498.9,297.4M499.9,292.5L498.9,297.4L503.8,296.3M508.5,273.5L498.9,283.4M499.8,278.5L498.9,283.4L503.8,282.3M508.5,259.5L498.9,269.5M499.8,264.5L498.9,269.5L503.8,268.3M508.5,245.5L498.9,255.5M499.8,250.6L498.9,255.5L503.8,254.4M508.5,231.5L498.9,241.6M499.8,236.6L498.9,241.6L503.7,240.4M508.5,217.5L499.5,228.2M500.1,223.2L499.5,228.2L504.3,226.7M508.5,202.5L500.7,214.3M500.8,209.3L500.7,214.3L505.3,212.3M508.5,188.5L502.1,201.3M501.6,196.3L502.1,201.3L506.4,198.7M508.5,173.5L503.5,187.0M502.4,182.2L503.5,187.0L507.5,184.1M508.5,159.5L504.9,173.7M503.3,168.9L504.9,173.7L508.6,170.3M508.5,144.5L506.0,159.0M504.0,154.4L506.0,159.0L509.4,155.4M508.5,129.5L506.5,144.2M504.4,139.7L506.5,144.2L509.8,140.4M508.5,114.5L507.1,129.4M504.8,125.0L507.1,129.4L510.2,125.5M508.5,99.5L507.4,114.6M505.0,110.2L507.4,114.6L510.4,110.6M508.5,84.5L507.6,99.7M505.2,95.4L507.6,99.7L510.6,95.7M508.5,69.5L507.9,84.9M505.3,80.6L507.9,84.9L510.8,80.8M508.5,53.5L508.1,69.0M505.5,64.8L508.1,69.0L510.9,64.9M508.5,37.5L508.3,53.2M505.6,49.0L508.3,53.2L511.0,49.0M522.5,452.5L512.5,461.8M513.8,456.9L512.5,461.8L517.5,460.9M522.5,438.5L512.2,447.4M513.6,442.6L512.2,447.4L517.2,446.7M522.5,425.5L512.0,434.2M513.5,429.4L512.0,434.2L517.0,433.6M522.5,411.5L511.9,420.0M513.5,415.3L511.9,420.0L516.9,419.5M522.5,397.5L511.8,405.9M513.4,401.2L511.8,405.9L516.8,405.5M522.5,384.5L511.8,393.0M513.4,388.2L511.8,393.0L516.8,392.5M522.5,329.5L512.9,339.3M513.9,334.4L512.9,339.3L517.8,338.2M522.5,315.5L512.9,325.3M513.9,320.4L512.9,325.3L517.8,324.2M522.5,301.5L512.9,311.3M513.9,306.4L512.9,311.3L517.8,310.2M522.5,287.5L512.9,297.4M513.9,292.5L512.9,297.4L517.8,296.3M522.5,273.5L512.9,283.4M513.8,278.5L512.9,283.4L517.8,282.3M522.5,259.5L512.9,269.5M513.8,264.5L512.9,269.5L517.8,268.3M522.5,245.5L512.9,255.5M513.8,250.6L512.9,255.5L517.8,254.4M522.5,231.5L512.9,241.6M513.8,236.6L512.9,241.6L517.7,240.4M522.5,217.5L513.4,228.1M514.0,223.1L513.4,228.1L518.2,226.7M522.5,202.5L514.4,214.1M514.6,209.1L514.4,214.1L519.0,212.2M522.5,188.5L515.5,200.9M515.2,195.9L515.5,200.9L520.0,198.6M522.5,173.5L517.0,186.8M516.1,181.9L517.0,186.8L521.1,184.0M522.5,159.5L518.6,173.6M517.1,168.8L518.6,173.6L522.3,170.2M522.5,144.5L519.8,159.0M517.9,154.4L519.8,159.0L523.2,155.4M522.5,129.5L520.6,144.2M518.4,139.7L520.6,144.2L523.8,140.4M522.5,114.5L521.4,129.5M519.0,125.1L521.4,129.5L524.4,125.5M522.5,99.5L521.6,114.6M519.1,110.3L521.6,114.6L524.6,110.6M522.5,84.5L521.9,99.7M519.3,95.4L521.9,99.7L524.8,95.7M522.5,69.5L522.3,84.9M519.6,80.7L522.3,84.9L525.1,80.7M522.5,53.5L522.9,69.0M520.1,64.9L522.9,69.0L525.5,64.8M522.5,37.5L523.5,53.2M520.5,49.1L523.5,53.2L525.9,48.8M535.5,452.5L527.3,463.4M527.7,458.4L527.3,463.4L532.0,461.7M535.5,438.5L527.0,449.1M527.5,444.1L527.0,449.1L531.7,447.5M535.5,425.5L526.6,435.8M527.3,430.9L526.6,435.8L531.4,434.4M535.5,411.5L526.3,421.6M527.1,416.6L526.3,421.6L531.2,420.3M535.5,397.5L526.1,407.3M527.0,402.4L526.1,407.3L530.9,406.2M535.5,384.5L525.9,394.1M526.9,389.2L525.9,394.1L530.7,393.1M535.5,370.5L525.7,380.0M526.8,375.1L525.7,380.0L530.6,379.0M535.5,356.5L525.6,365.9M526.8,361.1L525.6,365.9L530.5,365.0M535.5,343.5L525.8,353.1M526.8,348.2L525.8,353.1L530.6,352.1M535.5,329.5L525.9,339.3M526.9,334.4L525.9,339.3L530.8,338.2M535.5,315.5L525.9,325.3M526.9,320.4L525.9,325.3L530.8,324.2M535.5,301.5L525.9,311.3M526.9,306.4L525.9,311.3L530.8,310.2M535.5,287.5L525.9,297.4M526.9,292.5L525.9,297.4L530.8,296.3M535.5,273.5L525.9,283.4M526.8,278.5L525.9,283.4L530.8,282.3M535.5,259.5L525.9,269.5M526.8,264.5L525.9,269.5L530.8,268.3M535.5,245.5L525.9,255.5M526.8,250.6L525.9,255.5L530.8,254.4M535.5,231.5L525.9,241.6M526.8,236.6L525.9,241.6L530.7,240.4M535.5,217.5L526.3,228.0M527.0,223.1L526.3,228.0L531.1,226.7M535.5,202.5L527.1,213.8M527.4,208.8L527.1,213.8L531.8,212.1M535.5,188.5L528.0,200.6M527.9,195.6L528.0,200.6L532.5,198.4M535.5,173.5L529.6,186.6M528.8,181.7L529.6,186.6L533.8,183.9M535.5,159.5L531.3,173.4M529.9,168.6L531.3,173.4L535.1,170.2M535.5,144.5L532.6,158.9M530.8,154.3L532.6,158.9L536.1,155.4M535.5,129.5L533.6,144.2M531.5,139.7L533.6,144.2L536.9,140.4M535.5,114.5L534.6,129.5M532.2,125.1L534.6,129.5L537.6,125.4M535.5,99.5L534.9,114.6M532.3,110.3L534.9,114.6L537.8,110.5M535.5,84.5L535.1,99.8M532.5,95.5L535.1,99.8L537.9,95.6M535.5,69.5L535.7,84.9M532.9,80.7L535.7,84.9L538.4,80.7M535.5,53.5L536.7,69.0M533.7,65.0L536.7,69.0L539.1,64.6M535.5,37.5L537.7,53.0M534.4,49.2L537.7,53.0L539.8,48.5M549.5,438.5L542.3,450.0M542.2,445.0L542.3,450.0L546.8,447.9M549.5,425.5L541.9,436.8M542.0,431.8L541.9,436.8L546.5,434.8M549.5,411.5L541.4,422.4M541.7,417.5L541.4,422.4L546.1,420.7M549.5,397.5L540.9,408.1M541.5,403.1L540.9,408.1L545.7,406.6M549.5,384.5L540.6,394.8M541.3,389.9L540.6,394.8L545.4,393.4M549.5,370.5L540.2,380.5M541.1,375.6L540.2,380.5L545.1,379.3M549.5,356.5L540.0,366.3M541.0,361.4L540.0,366.3L544.9,365.2M549.5,343.5L540.0,353.3M540.9,348.4L540.0,353.3L544.8,352.2M549.5,329.5L539.9,339.3M540.9,334.4L539.9,339.3L544.8,338.2M549.5,315.5L539.9,325.3M540.9,320.4L539.9,325.3L544.8,324.2M549.5,301.5L539.9,311.3M540.9,306.4L539.9,311.3L544.8,310.2M549.5,287.5L539.9,297.4M540.9,292.5L539.9,297.4L544.8,296.3M549.5,273.5L539.9,283.4M540.8,278.5L539.9,283.4L544.8,282.3M549.5,259.5L539.9,269.5M540.8,264.5L539.9,269.5L544.8,268.3M549.5,245.5L539.9,255.5M540.8,250.6L539.9,255.5L544.8,254.4M549.5,231.5L539.9,241.6M540.8,236.6L539.9,241.6L544.7,240.4M549.5,217.5L540.2,227.9M540.9,223.0L540.2,227.9L545.0,226.6M549.5,202.5L540.7,213.5M541.2,208.5L540.7,213.5L545.5,211.9M549.5,188.5L541.3,200.1M541.5,195.1L541.3,200.1L546.0,198.2M549.5,173.5L542.9,186.3M542.4,181.3L542.9,186.3L547.3,183.8M549.5,159.5L544.7,173.2M543.5,168.4L544.7,173.2L548.7,170.2M549.5,144.5L546.2,158.8M544.5,154.1L546.2,158.8L549.8,155.4M549.5,129.5L547.4,144.2M545.3,139.7L547.4,144.2L550.7,140.4M549.5,114.5L548.6,129.5M546.1,125.1L548.6,129.5L551.6,125.5M549.5,99.5L548.8,114.6M546.3,110.3L548.8,114.6L551.7,110.6M549.5,84.5L548.9,99.8M546.4,95.5L548.9,99.8L551.8,95.7M549.5,69.5L549.4,84.9M546.7,80.7L549.4,84.9L552.1,80.7M549.5,53.5L550.1,69.0M547.2,65.0L550.1,69.0L552.7,64.7M549.5,37.5L550.9,53.1M547.8,49.2L550.9,53.1L553.2,48.7M562.5,452.5L556.5,464.7M555.9,459.8L556.5,464.7L560.8,462.2M562.5,438.5L556.1,450.5M555.7,445.5L556.1,450.5L560.5,448.1M562.5,425.5L555.6,437.2M555.4,432.2L555.6,437.2L560.1,435.0M562.5,411.5L554.9,422.8M555.0,417.8L554.9,422.8L559.5,420.9M562.5,397.5L554.3,408.4M554.7,403.4L554.3,408.4L559.0,406.7M562.5,384.5L553.9,395.1M554.5,390.2L553.9,395.1L558.7,393.6M562.5,370.5L553.6,380.8M554.3,375.9L553.6,380.8L558.4,379.4M562.5,356.5L553.3,366.6M554.1,361.7L553.3,366.6L558.1,365.3M562.5,343.5L553.1,353.4M554.0,348.5L553.1,353.4L557.9,352.3M562.5,329.5L552.9,339.3M553.9,334.4L552.9,339.3L557.8,338.2M562.5,315.5L552.9,325.3M553.9,320.4L552.9,325.3L557.8,324.2M562.5,301.5L552.9,311.3M553.9,306.4L552.9,311.3L557.8,310.2M562.5,287.5L552.9,297.4M553.9,292.5L552.9,297.4L557.8,296.3M562.5,273.5L552.9,283.4M553.8,278.5L552.9,283.4L557.8,282.3M562.5,259.5L552.9,269.5M553.8,264.5L552.9,269.5L557.8,268.3M562.5,245.5L552.9,255.5M553.8,250.6L552.9,255.5L557.8,254.4M562.5,231.5L552.9,241.6M553.8,236.6L552.9,241.6L557.7,240.4M562.5,217.5L553.0,227.8M553.9,222.8L553.0,227.8L557.9,226.5M562.5,202.5L553.3,213.1M554.0,208.1L553.3,213.1L558.1,211.7M562.5,188.5L553.6,199.4M554.1,194.5L553.6,199.4L558.3,197.9M562.5,173.5L555.2,185.8M555.0,180.8L555.2,185.8L559.7,183.6M562.5,159.5L557.0,172.9M556.1,168.0L557.0,172.9L561.1,170.1M562.5,144.5L558.5,158.6M557.0,153.9L558.5,158.6L562.3,155.3M562.5,129.5L559.9,144.1M557.9,139.5L559.9,144.1L563.3,140.5M562.5,114.5L561.2,129.4M558.9,125.0L561.2,129.4L564.3,125.5M562.5,99.5L561.4,114.6M559.0,110.2L561.4,114.6L564.4,110.6M562.5,84.5L561.5,99.7M559.0,95.4L561.5,99.7L564.5,95.7M562.5,69.5L561.4,84.9M559.0,80.5L561.4,84.9L564.4,80.9M562.5,53.5L561.1,69.0M558.8,64.5L561.1,69.0L564.2,65.0M562.5,37.5L560.8,53.1M558.5,48.6L560.8,53.1L563.9,49.2M576.5,452.5L571.4,465.1M570.5,460.2L571.4,465.1L575.5,462.2M576.5,438.5L571.0,450.9M570.2,446.0L571.0,450.9L575.2,448.2M576.5,425.5L570.3,437.6M569.8,432.7L570.3,437.6L574.7,435.1M576.5,411.5L569.5,423.2M569.3,418.2L569.5,423.2L574.0,421.0M576.5,397.5L568.7,408.7M568.9,403.7L568.7,408.7L573.3,406.8M576.5,384.5L568.3,395.4M568.7,390.4L568.3,395.4L573.0,393.7M576.5,370.5L567.9,381.1M568.4,376.2L567.9,381.1L572.7,379.6M576.5,356.5L567.6,366.9M568.2,361.9L567.6,366.9L572.4,365.5M576.5,343.5L567.2,353.6M568.1,348.6L567.2,353.6L572.1,352.3M576.5,329.5L566.9,339.3M567.9,334.4L566.9,339.3L571.8,338.2M576.5,315.5L566.9,325.3M567.9,320.4L566.9,325.3L571.8,324.2M576.5,301.5L566.9,311.3M567.9,306.4L566.9,311.3L571.8,310.2M576.5,287.5L566.9,297.4M567.9,292.5L566.9,297.4L571.8,296.3M576.5,273.5L566.9,283.4M567.8,278.5L566.9,283.4L571.8,282.3M576.5,259.5L566.9,269.5M567.8,264.5L566.9,269.5L571.8,268.3M576.5,245.5L566.9,255.5M567.8,250.6L566.9,255.5L571.8,254.4M576.5,231.5L566.9,241.6M567.8,236.6L566.9,241.6L571.7,240.4M576.5,217.5L566.9,227.6M567.8,222.7L566.9,227.6L571.7,226.4M576.5,202.5L566.9,212.7M567.8,207.8L566.9,212.7L571.7,211.5M576.5,188.5L566.9,198.7M567.8,193.8L566.9,198.7L571.7,197.5M576.5,173.5L568.5,185.3M568.6,180.3L568.5,185.3L573.1,183.3M576.5,159.5L570.3,172.5M569.6,167.6L570.3,172.5L574.5,169.9M576.5,144.5L571.9,158.4M570.6,153.6L571.9,158.4L575.8,155.3M576.5,129.5L573.4,144.0M571.6,139.3L573.4,144.0L576.9,140.5M576.5,114.5L574.8,129.4M572.6,124.9L574.8,129.4L578.0,125.5M576.5,99.5L574.9,114.5M572.7,110.1L574.9,114.5L578.1,110.6M576.5,84.5L575.0,99.7M572.7,95.2L575.0,99.7L578.1,95.8M576.5,69.5L574.4,84.7M572.3,80.2L574.4,84.7L577.7,80.9M576.5,53.5L573.1,68.6M571.4,63.9L573.1,68.6L576.7,65.1M576.5,37.5L571.8,52.3M570.5,47.4L571.8,52.3L575.7,49.1" stroke="#000080" stroke-width="1" fill="none" shape-rendering="crispEdges"/>
<path d="M168.5,36V468M236.5,36V468M304.5,36V468M372.5,36V468M440.5,36V468M507.5,36V468M152,397.5H578M152,329.5H578M152,259.5H578M152,188.5H578M152,115.5H578" stroke="#000" stroke-width="1" fill="none" shape-rendering="crispEdges"/>
<path d="M471.5,271.5 472.2,274.2 479.2,277.5 482.9,281.1 485.6,284.9 488.5,287.7 491.5,288.8 492.3,288.5 492.4,288.0 491.4,285.0 488.6,280.2 484.8,277.4 482.1,274.7 480.0,270.9 475.9,269.3 471.9,270.8ZM485.4,275.2 485.8,279.3 491.1,289.3 494.1,292.3 494.8,292.4 496.0,288.7 492.3,284.0 490.2,280.5 491.4,276.2 486.2,274.4 485.6,274.6ZM153.0,36.0 467.4,36.0 467.4,38.0 464.8,44.0 459.5,49.2 460.8,57.2 459.5,62.5 454.2,64.5 450.2,69.1 448.9,74.4 446.2,81.0 442.3,86.3 434.3,87.7 434.3,94.3 435.6,99.6 433.0,104.9 429.0,108.8 427.5,108.8 422.5,113.8 418.8,118.8 415.0,121.3 410.0,124.0 413.0,127.0 405.0,132.0 399.0,136.0 394.0,140.0 392.8,143.8 386.2,145.8 379.6,147.2 373.0,147.2 366.4,150.5 363.7,155.8 357.0,157.7 350.5,158.4 343.8,161.0 337.0,162.5 335.0,162.7 330.0,163.4 324.7,164.7 319.3,166.8 314.0,168.1 309.9,169.4 308.6,173.5 310.6,178.8 309.9,183.5 306.6,184.8 303.9,182.2 301.9,175.5 301.2,168.8 299.2,164.1 295.2,165.4 291.2,164.1 285.8,162.1 281.8,163.4 276.4,165.4 271.1,168.1 268.4,171.4 263.0,175.5 259.0,176.8 258.0,179.0 251.8,187.9 246.4,196.8 245.0,204.0 250.0,208.4 255.4,214.6 258.0,221.8 263.4,228.9 268.8,235.2 275.0,241.4 280.4,246.8 285.7,253.0 290.2,259.3 292.0,264.6 294.0,270.0 297.0,278.0 298.0,288.0 295.0,294.0 293.0,302.0 290.0,309.0 284.0,314.0 278.0,318.0 270.0,323.0 264.0,324.0 259.0,328.0 256.0,333.0 250.0,338.0 244.0,342.0 238.0,346.0 235.0,348.0 234.0,342.0 235.0,334.0 236.0,331.0 238.1,329.3 232.8,326.6 228.6,323.4 224.3,324.0 219.0,322.4 215.9,319.2 219.6,315.0 217.5,312.8 215.3,316.6 211.6,315.0 210.6,308.6 207.4,304.4 205.3,299.0 201.6,301.2 200.0,297.0 195.7,292.7 191.5,291.1 183.0,292.7 181.0,290.6 181.4,285.3 182.5,281.0 177.9,280.0 168.6,281.9 168.6,299.6 163.9,307.0 160.2,316.3 157.8,323.7 158.4,333.0 160.2,339.5 166.7,339.5 168.6,346.0 172.3,353.4 174.1,362.7 175.5,365.9 182.4,369.8 191.3,373.8 200.1,380.6 207.0,387.5 211.9,394.4 214.8,402.2 213.9,411.1 214.8,418.9 217.8,427.8 221.7,435.6 224.7,442.5 225.6,446.4 222.0,447.4 214.0,446.8 209.9,442.2 203.5,438.0 198.0,434.0 194.0,430.8 189.3,425.8 185.4,418.0 180.5,410.1 177.5,403.2 174.6,396.3 172.6,389.5 170.6,379.6 168.7,372.8 163.8,365.9 161.1,366.4 158.4,360.9 154.6,357.0 153.0,357.0ZM314.0,187.5 317.3,190.2 317.3,193.6 314.0,196.9 312.6,201.6 308.6,207.6 303.2,211.0 297.9,213.0 292.5,212.3 287.8,209.0 286.5,203.6 286.5,198.9 289.8,194.9 295.2,191.5 300.6,189.5 307.3,188.2 311.3,186.9ZM461.3,110.6 466.3,113.8 465.0,120.0 463.1,127.5 460.6,135.0 457.5,143.8 453.8,151.3 451.9,160.0 450.0,160.0 448.8,155.0 444.4,150.0 442.5,143.8 442.5,135.0 445.0,127.5 450.0,120.0 455.0,113.8ZM153.0,417.0 159.8,418.9 165.7,424.8 171.6,431.7 179.5,435.6 182.4,439.6 189.3,442.5 194.8,443.5 197.0,444.0 203.0,444.0 203.5,450.0 210.5,451.5 211.0,456.0 216.2,460.2 220.2,467.0 163.0,467.0 158.5,462.0 157.0,458.0 155.0,452.4 153.0,450.0ZM449.5,209.4 455.4,208.6 463.0,212.0 468.1,213.6 469.8,209.4 471.2,213.6 470.7,220.4 473.2,227.2 474.1,232.3 470.7,239.1 466.4,244.2 462.2,249.2 458.7,254.6 459.7,259.3 462.0,263.9 463.9,268.6 466.6,272.3 467.6,275.1 471.3,277.9 474.1,280.6 475.9,284.4 474.3,284.0 472.7,280.5 469.5,278.0 466.0,276.5 463.9,274.5 460.6,275.6 458.3,277.9 454.6,276.0 450.9,274.1 449.0,271.4 449.9,268.6 452.7,265.8 452.2,263.0 449.0,262.1 446.7,263.0 443.9,262.5 441.6,260.2 440.6,255.6 439.3,249.2 436.8,245.0 439.3,242.5 444.4,239.1 446.1,232.3 447.0,223.8 447.0,215.3ZM446.4,281.7 447.0,284.2 449.3,287.5 454.0,296.8 456.7,298.1 457.3,298.0 460.3,293.9 461.3,289.1 459.3,284.0 454.7,280.4 447.0,280.9 446.5,281.2ZM495.7,272.6 495.2,277.0 496.2,280.0 496.9,280.4 499.7,278.2 499.8,274.0 499.5,273.5 496.6,272.0 496.0,272.1ZM498.2,293.6 499.2,299.3 504.2,301.5 508.0,307.1 510.1,314.2 510.7,314.4 515.0,313.2 516.2,304.8 514.0,296.6 508.7,292.3 498.7,293.3ZM500.0,309.7 500.1,314.0 503.1,316.0 505.0,322.8 508.1,326.9 508.9,327.0 511.1,325.0 511.3,324.4 508.3,316.4 506.2,308.5 505.5,308.1 500.6,309.0ZM483.4,295.6 485.9,299.7 489.3,302.2 493.8,301.5 494.3,301.1 494.2,300.3 489.9,296.2 484.1,294.5 483.4,294.8ZM465.6,303.3 467.2,311.3 466.4,320.3 466.9,320.8 471.4,321.6 477.3,317.4 482.1,312.5 482.3,312.0 481.5,308.6 481.1,308.2 473.8,304.9 466.5,302.5 465.8,302.7ZM481.7,315.9 479.3,322.3 477.8,328.5 473.2,331.6 472.9,332.1 474.6,335.8 479.4,342.2 480.0,342.5 483.5,340.8 483.9,340.4 481.6,335.4 483.9,330.7 486.3,324.3 487.1,317.0 486.5,316.2 482.5,315.4ZM492.7,317.0 489.0,323.8 485.7,331.1 486.0,331.9 487.8,332.8 488.5,332.5 491.9,327.6 495.2,319.5 495.0,318.9 493.3,317.1ZM492.2,329.7 492.4,333.5 496.8,334.5 497.3,334.3 501.6,330.6 499.1,326.9 498.5,326.6 492.6,329.1ZM514.4,334.5 520.0,336.1 523.2,342.5 526.5,352.2 528.9,361.8 528.1,368.2 524.9,371.4 523.2,375.5 520.0,366.6 516.8,369.8 514.4,376.3 517.6,381.1 513.6,386.7 510.4,384.3 504.8,383.5 497.5,381.1 495.1,374.7 496.7,366.6 494.3,361.8 490.3,357.8 487.1,361.0 483.1,362.6 478.2,361.0 472.6,363.4 469.4,369.0 466.2,369.8 467.8,368.2 469.4,361.0 473.4,357.0 479.8,356.2 480.6,351.4 485.5,348.9 490.3,348.1 491.9,352.2 494.3,354.6 499.1,348.9 504.8,348.1 505.6,344.1 510.4,344.9 513.6,340.9ZM291.0,467.0 290.0,454.0 291.9,446.8 293.9,442.0 297.7,439.1 300.6,443.0 304.5,445.9 311.2,446.8 318.0,446.8 320.9,442.0 321.8,436.2 322.8,429.5 328.6,426.6 337.2,424.7 345.9,421.8 350.7,416.0 354.6,411.2 360.4,405.4 367.1,400.6 372.0,397.7 376.8,397.7 379.7,392.9 386.4,386.1 391.2,380.3 396.1,373.6 400.9,367.8 405.7,373.6 407.6,381.3 413.4,386.1 423.0,390.0 430.0,391.9 425.0,395.7 417.3,397.7 417.3,402.5 410.5,406.3 407.6,412.1 400.9,416.0 407.6,421.8 410.5,429.5 410.5,437.2 415.3,443.0 421.1,447.8 425.9,451.7 421.1,453.6 413.4,452.6 409.6,458.4 407.6,467.0ZM438.0,467.0 438.0,463.6 441.2,457.2 449.7,453.0 452.8,447.7 458.1,448.7 462.4,450.9 473.0,451.9 483.6,453.0 494.2,451.9 500.5,447.7 506.9,443.4 510.1,441.3 510.1,445.6 505.8,451.9 501.6,457.2 494.2,459.3 487.8,460.4 483.6,457.2 477.2,457.2 468.7,456.2 458.1,457.2 449.7,458.3 443.3,461.5 440.1,467.0ZM550.8,434.3 553.0,437.4 553.8,437.6 557.1,435.4 558.3,431.2 556.2,428.8 552.7,429.3 550.8,433.6ZM543.4,439.9 540.1,444.6 541.2,450.2 545.1,452.6 548.7,449.2 548.9,448.6 547.7,442.0 544.3,439.7ZM550.8,445.2 548.7,448.4 546.5,452.6 542.3,456.9 543.3,463.7 543.7,464.2 547.6,464.1 548.8,459.8 554.0,457.7 558.3,451.2 558.4,444.5 558.2,444.0 557.6,443.8Z" fill="#c5c3c6" stroke="#000" stroke-width="1" stroke-linejoin="round" shape-rendering="crispEdges"/>
<path d="M433.0,316.8 430.5,317.0 428.5,320.3 420.4,328.3 417.2,332.3 413.4,336.3 407.8,340.6 403.7,345.4 401.9,349.2 402.5,352.0 403.3,352.1 408.1,349.4 412.2,345.3 420.9,338.7 427.5,330.5 431.5,326.5 435.5,323.1 435.7,322.5 433.7,317.2Z" fill="#c5c3c6" shape-rendering="crispEdges"/>
<path d="M466,37h1v3h-1zM467,40h1v1h-1zM465,38h3v2h-3zM465,42h3v1h-3zM465,42h1v3h-1zM464,40h1v3h-1zM465,41h3v3h-3zM463,43h1v3h-1zM461,45h2v2h-2zM464,45h1v1h-1zM459,46h3v2h-3zM461,46h1v1h-1zM458,47h2v2h-2zM459,49h3v2h-3zM458,50h2v1h-2zM461,51h1v1h-1zM458,52h2v2h-2zM461,52h2v2h-2zM458,52h2v1h-2zM459,56h2v1h-2zM460,54h1v2h-1zM459,56h2v2h-2zM459,56h1v1h-1zM461,58h2v1h-2zM459,60h2v1h-2zM459,61h1v2h-1zM459,63h3v2h-3zM457,62h2v1h-2zM459,62h1v2h-1zM453,63h3v1h-3zM455,61h1v3h-1zM453,65h3v2h-3zM451,64h2v2h-2zM450,63h2v2h-2zM452,65h1v3h-1zM451,68h3v2h-3zM451,68h2v3h-2zM447,69h3v3h-3zM449,69h1v1h-1zM449,69h3v2h-3zM447,69h2v2h-2zM449,74h2v2h-2zM448,72h1v2h-1zM446,75h3v1h-3zM448,77h1v1h-1zM448,78h2v1h-2zM447,76h2v2h-2zM448,80h1v1h-1zM446,78h1v3h-1zM447,81h2v1h-2zM444,78h1v3h-1zM443,84h1v1h-1zM442,83h3v2h-3zM442,82h2v2h-2zM443,85h3v1h-3zM441,84h2v1h-2zM442,84h1v2h-1zM437,83h3v3h-3zM439,85h3v1h-3zM436,87h3v2h-3zM437,88h2v2h-2zM435,86h2v2h-2zM436,86h1v3h-1zM435,86h3v1h-3zM432,86h2v2h-2zM432,88h2v1h-2zM432,91h2v1h-2zM432,91h1v2h-1zM432,93h1v1h-1zM435,93h2v1h-2zM432,93h2v3h-2zM434,94h3v3h-3zM436,95h1v1h-1zM434,99h1v2h-1zM436,100h2v2h-2zM436,100h2v1h-2zM435,99h1v2h-1zM434,102h1v3h-1zM431,105h2v1h-2zM432,105h2v3h-2zM432,104h1v1h-1zM429,107h2v3h-2zM429,106h1v2h-1zM427,107h1v1h-1zM428,107h2v1h-2zM425,109h2v2h-2zM427,111h2v1h-2zM425,111h1v2h-1zM427,112h1v1h-1zM426,111h1v1h-1zM422,111h2v3h-2zM422,112h1v2h-1zM420,115h3v2h-3zM423,113h2v1h-2zM419,115h3v1h-3zM421,114h1v1h-1zM417,115h2v1h-2zM421,118h1v3h-1zM418,120h1v2h-1zM417,117h3v2h-3zM417,117h3v3h-3zM416,118h3v1h-3zM413,121h1v2h-1zM413,122h3v1h-3zM410,122h3v3h-3zM411,123h2v2h-2zM412,122h1v1h-1zM411,123h2v1h-2zM410,125h3v1h-3zM409,123h2v3h-2zM409,124h2v1h-2zM412,125h3v2h-3zM410,126h3v1h-3zM409,127h2v2h-2zM409,130h2v2h-2zM410,128h3v1h-3zM408,130h1v3h-1zM407,131h2v1h-2zM408,130h1v1h-1zM406,130h1v2h-1zM404,132h1v2h-1zM405,131h1v1h-1zM401,132h2v2h-2zM402,132h2v2h-2zM400,132h2v1h-2zM399,134h1v2h-1zM399,132h2v3h-2zM399,133h2v2h-2zM396,138h2v1h-2zM397,135h2v2h-2zM395,138h2v2h-2zM394,138h2v1h-2zM392,137h2v3h-2zM395,141h2v2h-2zM391,138h2v3h-2zM391,141h3v1h-3zM393,142h2v3h-2zM390,144h2v2h-2zM389,145h3v1h-3zM390,143h2v2h-2zM389,146h1v1h-1zM387,146h2v3h-2zM383,147h3v2h-3zM384,144h1v1h-1zM384,148h2v1h-2zM381,146h1v3h-1zM382,145h1v2h-1zM380,148h1v1h-1zM380,145h2v1h-2zM376,146h2v2h-2zM377,147h2v3h-2zM374,149h2v1h-2zM374,147h2v1h-2zM374,148h1v2h-1zM371,146h2v1h-2zM371,149h1v1h-1zM369,149h1v1h-1zM369,149h1v3h-1zM367,147h2v1h-2zM366,149h1v1h-1zM365,148h1v1h-1zM367,152h1v1h-1zM364,149h3v2h-3zM365,151h2v2h-2zM363,151h1v2h-1zM365,154h1v2h-1zM364,157h2v1h-2zM361,155h2v1h-2zM361,156h2v1h-2zM361,154h1v2h-1zM360,155h1v3h-1zM356,159h3v1h-3zM357,156h2v2h-2zM356,159h1v1h-1zM352,158h2v2h-2zM355,158h1v2h-1zM353,158h1v3h-1zM352,158h3v1h-3zM349,157h2v1h-2zM349,158h1v2h-1zM350,158h1v1h-1zM347,160h2v1h-2zM346,159h1v3h-1zM345,158h2v2h-2zM343,159h2v1h-2zM342,158h2v3h-2zM340,159h1v3h-1zM341,159h2v1h-2zM339,162h2v2h-2zM338,159h1v3h-1zM337,162h2v3h-2zM336,161h1v1h-1zM336,161h1v2h-1zM333,163h1v3h-1zM335,163h2v2h-2zM331,162h1v1h-1zM332,160h1v2h-1zM329,162h1v2h-1zM329,162h2v2h-2zM327,163h2v2h-2zM328,165h2v1h-2zM325,165h2v1h-2zM326,163h2v2h-2zM323,162h1v2h-1zM323,164h3v1h-3zM321,165h1v1h-1zM322,166h1v2h-1zM321,167h2v2h-2zM320,166h3v1h-3zM318,167h3v1h-3zM315,165h2v3h-2zM315,166h1v1h-1zM315,168h2v1h-2zM313,168h2v2h-2zM311,167h2v2h-2zM310,166h2v2h-2zM311,170h2v1h-2zM309,167h2v2h-2zM310,170h1v1h-1zM306,172h3v1h-3zM308,171h1v1h-1zM310,174h1v1h-1zM310,173h1v1h-1zM308,176h1v2h-1zM308,177h1v2h-1zM311,175h2v3h-2zM309,176h1v2h-1zM311,180h2v1h-2zM309,181h1v2h-1zM309,181h1v2h-1zM309,182h2v2h-2zM307,182h2v1h-2zM306,184h1v2h-1zM304,184h3v2h-3zM306,181h2v3h-2zM304,182h1v1h-1zM304,180h1v1h-1zM301,181h3v1h-3zM301,177h2v3h-2zM301,176h1v1h-1zM300,175h2v2h-2zM303,174h3v2h-3zM301,175h3v2h-3zM302,172h3v1h-3zM300,171h1v1h-1zM301,170h2v1h-2zM301,170h2v3h-2zM300,168h1v2h-1zM468,40h2v1h-2zM464,38h1v1h-1zM467,44h2v1h-2zM464,42h3v2h-3zM467,45h1v3h-1zM462,43h1v1h-1zM464,44h1v2h-1zM461,51h1v2h-1zM461,53h2v3h-2zM457,54h3v1h-3zM458,54h1v1h-1zM458,61h3v1h-3zM453,62h1v1h-1zM453,67h2v1h-2zM452,67h2v2h-2zM449,67h2v1h-2zM448,72h3v2h-3zM448,72h1v2h-1zM446,73h1v3h-1zM445,74h1v1h-1zM445,77h1v2h-1zM447,83h1v2h-1zM446,83h2v3h-2zM442,84h1v2h-1zM438,84h3v3h-3zM442,87h2v1h-2zM433,84h2v3h-2zM432,90h3v1h-3zM434,90h1v3h-1zM432,92h3v1h-3zM432,98h2v1h-2zM435,95h1v1h-1zM433,100h1v2h-1zM433,98h2v2h-2zM429,106h2v1h-2zM429,109h2v1h-2zM422,109h2v2h-2zM424,113h1v2h-1zM420,113h3v2h-3zM416,120h1v1h-1zM416,119h1v3h-1zM418,119h1v2h-1zM414,120h1v2h-1zM412,124h1v2h-1zM406,129h3v1h-3zM404,133h1v1h-1zM405,130h1v2h-1zM404,135h1v2h-1zM402,133h2v2h-2zM399,138h2v1h-2zM396,138h1v2h-1zM394,137h1v3h-1zM395,141h1v1h-1zM389,141h3v1h-3zM390,145h1v2h-1zM390,144h1v3h-1zM385,146h2v1h-2zM381,143h2v3h-2zM381,144h2v1h-2zM380,148h1v1h-1zM378,147h2v2h-2zM379,147h1v2h-1zM375,148h2v1h-2zM374,144h2v1h-2zM373,145h2v3h-2zM368,147h1v2h-1zM368,148h3v2h-3zM364,149h1v2h-1zM366,149h1v1h-1zM364,152h3v1h-3zM362,150h2v3h-2zM363,155h2v3h-2zM363,157h1v1h-1zM362,157h1v1h-1zM356,159h1v2h-1zM354,158h2v1h-2zM352,157h3v1h-3zM353,158h2v3h-2zM348,158h3v3h-3zM349,158h1v2h-1zM345,156h1v1h-1zM348,158h1v1h-1zM343,160h2v1h-2zM343,162h1v1h-1zM341,161h2v1h-2zM335,162h3v1h-3zM336,161h2v3h-2zM335,162h2v2h-2zM336,161h1v2h-1zM334,161h2v3h-2zM330,163h3v2h-3zM327,164h3v2h-3zM327,162h1v2h-1zM323,162h2v1h-2zM323,167h3v1h-3zM322,167h2v2h-2zM317,168h1v2h-1zM313,166h1v2h-1zM311,169h1v1h-1zM312,166h3v2h-3zM312,167h1v1h-1zM310,167h3v2h-3zM309,167h1v2h-1zM307,171h1v1h-1zM305,170h3v1h-3zM306,173h3v2h-3zM311,172h1v2h-1zM308,176h1v2h-1zM307,179h2v2h-2zM310,182h1v1h-1zM308,184h3v2h-3zM309,183h1v1h-1zM308,186h1v3h-1zM304,183h2v1h-2zM302,178h1v2h-1zM303,178h2v2h-2zM301,177h2v1h-2zM303,174h1v1h-1zM302,170h1v2h-1zM297,162h2v2h-2zM298,164h1v2h-1zM294,165h3v1h-3zM295,164h1v1h-1zM295,164h1v2h-1zM293,166h1v1h-1zM291,165h1v3h-1zM291,163h1v2h-1zM290,163h1v1h-1zM289,162h2v1h-2zM286,163h2v3h-2zM285,163h3v2h-3zM286,163h1v2h-1zM284,161h1v1h-1zM282,160h3v2h-3zM282,160h1v3h-1zM280,163h3v2h-3zM282,162h2v2h-2zM281,165h1v1h-1zM279,163h2v1h-2zM279,163h1v2h-1zM278,163h2v3h-2zM275,164h2v2h-2zM276,164h1v2h-1zM272,167h1v1h-1zM271,167h1v1h-1zM272,169h1v1h-1zM270,166h3v3h-3zM269,168h2v1h-2zM267,167h2v3h-2zM267,169h2v1h-2zM266,170h3v2h-3zM265,172h2v2h-2zM266,170h1v2h-1zM264,171h2v3h-2zM265,175h3v1h-3zM262,175h2v1h-2zM263,172h1v3h-1zM261,174h1v1h-1zM262,177h2v1h-2zM261,176h1v3h-1zM481,280h3v2h-3zM482,281h2v1h-2zM488,280h3v2h-3zM479,272h3v2h-3zM479,269h1v3h-1zM488,282h3v3h-3zM488,286h1v2h-1zM491,289h2v2h-2zM493,284h1v2h-1zM489,276h2v2h-2zM456,208h3v3h-3zM457,209h2v2h-2zM463,211h1v2h-1zM465,212h3v2h-3zM469,210h1v3h-1zM470,212h2v3h-2zM469,214h3v1h-3zM470,214h2v3h-2zM470,218h1v1h-1zM469,221h2v2h-2zM470,224h2v1h-2zM471,226h3v1h-3zM473,227h1v1h-1zM472,234h1v2h-1zM472,234h2v3h-2zM472,237h1v1h-1zM468,241h1v2h-1zM466,243h2v1h-2zM466,244h1v1h-1zM461,249h1v2h-1zM458,251h3v1h-3zM458,254h2v2h-2zM459,258h2v1h-2zM464,267h1v3h-1zM466,270h1v2h-1zM467,275h1v3h-1zM472,277h2v1h-2zM471,280h2v2h-2zM471,279h2v2h-2zM468,278h3v1h-3zM467,276h1v2h-1zM467,276h1v3h-1zM462,275h2v1h-2zM462,274h1v3h-1zM458,275h2v1h-2zM458,276h2v3h-2zM455,277h2v2h-2zM449,273h3v1h-3zM448,271h3v2h-3zM448,269h1v3h-1zM450,267h2v2h-2zM450,266h2v2h-2zM450,266h2v1h-2zM451,262h3v1h-3zM451,262h1v1h-1zM444,262h1v1h-1zM442,261h2v2h-2zM441,261h2v1h-2zM440,260h2v1h-2zM440,255h2v2h-2zM439,251h2v3h-2zM439,249h1v1h-1zM437,247h1v1h-1zM437,243h2v1h-2zM441,240h2v1h-2zM444,237h1v1h-1zM445,236h1v1h-1zM444,230h3v3h-3zM446,229h2v2h-2zM445,230h1v1h-1zM446,227h3v1h-3zM446,219h1v1h-1zM446,217h2v2h-2zM447,215h1v1h-1zM448,212h1v3h-1zM516,336h3v1h-3zM519,335h1v3h-1zM520,337h1v3h-1zM523,342h1v3h-1zM524,344h1v1h-1zM525,346h1v1h-1zM525,348h2v1h-2zM528,357h1v2h-1zM527,359h2v2h-2zM527,359h3v2h-3zM529,362h2v2h-2zM527,364h3v2h-3zM527,364h2v1h-2zM528,366h2v1h-2zM528,368h2v2h-2zM525,367h3v2h-3zM523,371h3v2h-3zM523,374h2v2h-2zM521,372h1v1h-1zM520,370h2v1h-2zM520,367h1v2h-1zM516,367h2v2h-2zM515,374h1v2h-1zM516,378h1v1h-1zM515,379h3v1h-3zM515,381h2v3h-2zM514,384h1v1h-1zM514,385h2v2h-2zM511,384h2v2h-2zM511,385h2v1h-2zM508,383h2v2h-2zM501,383h3v1h-3zM498,380h2v1h-2zM497,380h1v1h-1zM496,378h2v1h-2zM495,376h1v2h-1zM494,374h2v2h-2zM496,371h1v3h-1zM495,370h2v2h-2zM495,368h2v1h-2zM493,364h3v1h-3zM494,361h1v3h-1zM492,360h2v1h-2zM491,358h2v3h-2zM490,358h1v2h-1zM488,358h2v1h-2zM488,358h1v3h-1zM485,361h3v1h-3zM486,361h1v1h-1zM480,361h2v2h-2zM479,360h1v1h-1zM473,363h2v1h-2zM472,363h1v1h-1zM471,363h2v1h-2zM466,368h1v2h-1zM466,369h2v1h-2zM468,365h2v1h-2zM469,364h1v1h-1zM469,361h2v1h-2zM476,356h1v1h-1zM476,356h2v1h-2zM479,355h1v1h-1zM478,351h3v3h-3zM485,350h1v1h-1zM484,348h1v1h-1zM485,348h2v2h-2zM487,348h3v2h-3zM492,353h2v2h-2zM495,352h3v2h-3zM499,347h1v2h-1zM501,348h2v2h-2zM503,348h3v2h-3zM504,346h2v2h-2zM510,343h1v3h-1zM511,343h2v3h-2zM514,338h1v3h-1zM513,338h1v2h-1zM514,337h1v2h-1zM497,293h1v2h-1zM499,300h1v2h-1zM503,299h1v2h-1zM506,305h2v1h-2zM507,310h3v2h-3zM508,313h3v2h-3zM512,313h2v3h-2zM516,309h2v1h-2zM515,305h3v2h-3zM515,301h2v2h-2zM508,291h2v2h-2zM507,291h1v1h-1zM504,292h1v2h-1zM502,292h3v1h-3zM498,293h1v1h-1zM502,317h2v3h-2zM504,320h2v2h-2zM505,321h2v3h-2zM505,326h2v1h-2zM509,319h1v1h-1zM507,316h3v1h-3zM507,309h1v2h-1zM506,310h2v1h-2zM500,309h1v1h-1zM480,316h3v1h-3zM480,321h1v2h-1zM478,324h1v1h-1zM477,327h1v3h-1zM472,333h3v3h-3zM473,334h1v3h-1zM475,338h2v1h-2zM477,339h1v2h-1zM479,340h1v3h-1zM481,341h1v1h-1zM483,340h1v2h-1zM480,337h2v1h-2zM482,333h1v1h-1zM483,328h3v1h-3zM485,325h1v1h-1zM485,321h1v2h-1zM487,319h1v1h-1zM484,315h3v1h-3zM484,316h1v1h-1zM483,313h1v3h-1zM464,301h2v3h-2zM466,305h2v1h-2zM465,306h1v1h-1zM467,309h1v1h-1zM466,317h2v1h-2zM471,320h1v2h-1zM479,316h1v1h-1zM481,312h1v3h-1zM482,312h1v2h-1zM477,307h3v2h-3zM476,304h1v2h-1zM470,304h3v1h-3zM469,302h2v2h-2zM467,301h1v2h-1zM467,301h1v2h-1zM486,327h2v3h-2zM484,331h3v2h-3zM486,331h2v1h-2zM493,325h1v1h-1zM492,322h3v1h-3zM494,318h2v1h-2zM492,331h1v2h-1zM492,332h1v2h-1zM499,331h1v3h-1zM500,330h2v1h-2zM486,300h3v2h-3zM489,301h3v2h-3zM490,295h2v3h-2zM485,295h2v1h-2zM483,294h1v2h-1zM449,287h3v2h-3zM449,289h2v1h-2zM454,297h1v1h-1zM456,296h1v2h-1zM459,294h3v2h-3zM457,282h1v2h-1zM456,282h2v2h-2zM452,280h2v1h-2zM451,280h3v3h-3zM449,280h2v3h-2zM447,279h3v2h-3zM445,281h3v1h-3zM291,450h2v3h-2zM291,446h2v3h-2zM292,444h1v1h-1zM294,440h2v1h-2zM300,442h3v2h-3zM308,446h2v1h-2zM311,445h2v2h-2zM316,445h3v2h-3zM318,443h1v2h-1zM319,434h3v3h-3zM322,434h2v1h-2zM321,433h2v2h-2zM323,429h2v1h-2zM325,428h2v2h-2zM335,425h1v2h-1zM338,424h1v1h-1zM341,423h1v1h-1zM342,422h1v1h-1zM346,419h2v2h-2zM347,419h1v1h-1zM348,417h3v2h-3zM349,418h1v1h-1zM353,410h2v2h-2zM355,408h3v2h-3zM356,409h2v1h-2zM358,407h1v1h-1zM359,405h2v1h-2zM361,402h3v1h-3zM375,398h2v1h-2zM377,397h1v2h-1zM378,393h1v2h-1zM382,387h1v3h-1zM389,381h2v2h-2zM389,380h1v3h-1zM390,379h2v3h-2zM391,377h1v2h-1zM393,377h3v1h-3zM395,372h1v2h-1zM397,368h2v2h-2zM399,369h1v2h-1zM399,368h3v2h-3zM405,373h2v2h-2zM405,375h1v1h-1zM406,378h1v3h-1zM408,382h1v2h-1zM409,382h2v1h-2zM414,386h2v2h-2zM416,387h1v2h-1zM418,388h2v2h-2zM420,388h1v1h-1zM420,388h2v1h-2zM423,390h2v1h-2zM427,390h2v2h-2zM428,391h3v1h-3zM428,394h2v1h-2zM426,392h3v1h-3zM424,395h2v1h-2zM423,395h1v2h-1zM421,395h1v3h-1zM419,396h1v2h-1zM416,398h3v1h-3zM417,400h1v2h-1zM414,404h2v1h-2zM408,407h1v1h-1zM407,411h2v1h-2zM406,411h2v2h-2zM406,412h2v1h-2zM402,414h1v1h-1zM403,418h2v1h-2zM406,421h1v1h-1zM408,422h2v3h-2zM411,428h1v2h-1zM411,429h1v2h-1zM409,430h3v3h-3zM408,432h3v2h-3zM408,436h3v2h-3zM410,436h1v2h-1zM413,440h2v1h-2zM415,442h1v2h-1zM417,444h1v3h-1zM421,447h2v2h-2zM420,447h2v1h-2zM421,448h2v1h-2zM415,452h3v1h-3zM412,453h2v1h-2zM429,316h3v2h-3zM431,317h1v1h-1zM429,317h1v1h-1zM428,318h1v1h-1zM426,320h2v2h-2zM427,321h2v1h-2zM425,322h1v2h-1zM424,322h3v1h-3zM422,324h2v1h-2zM421,325h2v2h-2zM418,328h3v2h-3zM419,328h1v2h-1zM417,329h3v2h-3zM417,330h2v1h-2zM413,335h2v1h-2zM412,336h2v2h-2zM412,335h3v2h-3zM410,337h1v1h-1zM406,339h3v2h-3zM404,342h3v2h-3zM403,343h3v1h-3zM405,344h2v2h-2zM401,347h1v2h-1zM402,349h3v1h-3zM402,347h1v2h-1zM401,350h1v1h-1zM402,352h3v1h-3zM404,351h2v1h-2zM404,351h2v2h-2zM405,351h1v1h-1zM407,350h2v2h-2zM406,349h2v2h-2zM409,346h1v3h-1zM410,345h2v1h-2zM414,344h1v2h-1zM413,342h2v1h-2zM415,341h2v1h-2zM418,339h2v2h-2zM418,337h2v3h-2zM422,338h1v1h-1zM422,336h2v1h-2zM423,335h1v2h-1zM423,334h3v1h-3zM431,325h1v1h-1zM432,324h1v1h-1zM434,322h3v2h-3zM434,322h2v3h-2zM433,316h1v1h-1z" fill="#000" shape-rendering="crispEdges"/>
<g fill="#0018ff" shape-rendering="crispEdges"></g>
<path d="M257.7,150.0 259.7,156.7 265.7,162.0 272.4,164.7 275.1,165.8M225.0,200.4 232.0,204.0 237.5,208.4 241.0,214.6 248.2,221.8 254.5,229.0 259.0,236.0 266.0,241.4 269.6,246.8 270.5,254.0 273.2,259.3 272.3,266.4 271.4,270.0M225.0,215.5 231.0,221.8 234.0,230.7 237.5,240.5 243.0,246.8 244.6,255.7 247.3,261.0 248.2,270.0M170.6,374.7 179.5,377.7 182.4,380.6 184.4,386.5 192.2,385.5 197.2,381.6M154.6,273.6 159.3,274.5 157.4,281.0 158.4,288.4 162.1,295.9 163.9,303.3 161.1,310.7 158.4,318.1 157.4,323.7M297.7,439.1 301.6,446.8 309.3,452.6 318.9,451.7 328.6,450.7 334.4,445.9 344.0,444.9 351.7,446.8 359.4,444.9 367.1,444.9 370.0,437.2 374.8,431.4 373.9,426.6 379.7,422.7 381.6,416.0 382.6,407.3 390.3,406.3 398.0,406.3 405.7,407.3 409.6,409.2M362.3,403.5 368.1,411.2 370.0,408.3 369.1,399.6M372.9,398.6 373.3,405.4 375.8,405.4 375.8,399.6M155.2,142.4 161.9,142.4 161.1,148.4 158.2,154.3 158.9,157.3 166.3,159.5 169.3,163.2 172.3,166.9 179.7,165.4 183.4,163.2 184.9,166.2M184.9,166.2 181.2,169.9 176.7,174.3 172.3,178.8 169.3,182.5 163.4,184.0 157.4,187.7 155.2,191.4M184.9,166.2 185.6,171.3 193.0,170.6 193.0,163.2 190.1,157.3 191.5,152.8 197.5,152.8 199.7,150.6 201.9,149.1 209.3,152.1 213.8,148.4 219.7,149.8 224.2,147.6 230.1,146.1 234.6,142.4 240.5,139.5 246.4,143.2 253.8,145.4 259.8,148.4 259.8,154.3 262.0,159.5 265.7,162.0M199.7,150.6 201.9,157.3 206.4,162.4 208.6,169.9 212.3,175.1 219.7,176.5 225.7,175.1 230.8,179.5 231.6,184.0 236.0,186.9 233.8,192.1 227.1,192.9 223.4,195.1 221.9,198.0 225.0,200.4M169.3,182.5 172.3,184.0 176.0,186.9 174.5,194.3 179.7,195.1 186.3,194.3 185.6,201.8 186.3,206.2 184.1,212.1 182.0,224.0 187.0,223.0 193.0,217.0 199.0,214.0 204.0,219.0 212.0,212.0 220.0,211.0 225.0,215.5M202.0,296.0 201.0,286.0 200.0,280.0 208.0,272.0 216.0,268.0 226.0,268.4 236.0,267.6 240.0,270.0 243.0,266.0 247.0,268.0 248.2,270.0M247.0,268.0 248.0,274.0 252.0,270.0 258.0,266.0 265.0,269.0 270.0,266.0 272.0,262.0M270.0,266.0 270.0,274.0 271.0,284.0 272.0,294.0 266.0,299.0 259.0,301.0 252.0,306.0 248.0,308.0 250.0,313.0 254.0,314.0 250.0,318.0 244.0,316.0 240.0,318.0 238.0,314.0 236.0,308.0 238.0,320.0 232.0,323.0M234.0,300.0 238.0,299.0 241.0,302.0 244.0,301.0M197.0,444.5 202.5,444.5 202.5,453.5M198.0,447.0 199.5,452.0 203.0,454.0M203.0,450.5 210.0,452.0 210.0,455.0 204.0,453.0M206.0,462.0 211.0,459.0 216.0,456.5M206.0,461.0 211.0,458.0 216.0,455.5M306.0,135.5 309.0,137.0 314.0,138.0 318.0,138.5 323.0,137.5M381.0,40.0 385.0,41.5 389.0,41.0 393.0,39.5M262.0,324.0 258.0,320.0 255.0,318.0M259.0,327.0 254.0,322.0 251.0,321.0M256.0,331.0 251.0,326.0 247.0,324.0M252.0,316.0 248.0,313.0" fill="none" stroke="#000" stroke-width="1" stroke-linejoin="round" shape-rendering="crispEdges"/>
<g fill="#000"><ellipse cx="548.0" cy="91.0" rx="5.5" ry="2.0" transform="rotate(-50 548.0 91.0)"/><ellipse cx="567.0" cy="65.0" rx="4.5" ry="2.0" transform="rotate(-40 567.0 65.0)"/><ellipse cx="562.0" cy="72.6" rx="1.0" ry="1.0" transform="rotate(0 562.0 72.6)"/><ellipse cx="556.0" cy="78.4" rx="1.0" ry="1.0" transform="rotate(0 556.0 78.4)"/><ellipse cx="538.0" cy="94.0" rx="1.5" ry="1.0" transform="rotate(0 538.0 94.0)"/><ellipse cx="532.0" cy="94.4" rx="1.5" ry="0.8" transform="rotate(0 532.0 94.4)"/><ellipse cx="492.0" cy="123.0" rx="4.0" ry="1.5" transform="rotate(-20 492.0 123.0)"/><ellipse cx="499.0" cy="121.0" rx="2.0" ry="1.0" transform="rotate(-30 499.0 121.0)"/><ellipse cx="480.0" cy="123.0" rx="1.5" ry="1.0" transform="rotate(0 480.0 123.0)"/><ellipse cx="512.0" cy="117.6" rx="2.5" ry="1.0" transform="rotate(20 512.0 117.6)"/><ellipse cx="504.0" cy="119.0" rx="1.5" ry="1.0" transform="rotate(0 504.0 119.0)"/><ellipse cx="489.0" cy="102.4" rx="1.5" ry="0.8" transform="rotate(0 489.0 102.4)"/><ellipse cx="433.8" cy="135.6" rx="1.5" ry="1.5" transform="rotate(0 433.8 135.6)"/><ellipse cx="434.4" cy="138.8" rx="1.0" ry="1.5" transform="rotate(0 434.4 138.8)"/><ellipse cx="461.0" cy="149.0" rx="1.0" ry="1.0" transform="rotate(0 461.0 149.0)"/><ellipse cx="461.0" cy="159.0" rx="1.0" ry="1.0" transform="rotate(0 461.0 159.0)"/><ellipse cx="465.0" cy="178.0" rx="1.0" ry="2.0" transform="rotate(20 465.0 178.0)"/><ellipse cx="466.0" cy="183.0" rx="1.0" ry="1.5" transform="rotate(0 466.0 183.0)"/><ellipse cx="463.0" cy="185.0" rx="1.0" ry="1.0" transform="rotate(0 463.0 185.0)"/><ellipse cx="458.0" cy="199.0" rx="1.5" ry="1.0" transform="rotate(0 458.0 199.0)"/><ellipse cx="466.0" cy="195.0" rx="1.5" ry="1.0" transform="rotate(0 466.0 195.0)"/><ellipse cx="461.0" cy="202.0" rx="1.5" ry="1.0" transform="rotate(0 461.0 202.0)"/><ellipse cx="466.0" cy="204.0" rx="1.5" ry="1.0" transform="rotate(0 466.0 204.0)"/><ellipse cx="336.0" cy="233.0" rx="1.0" ry="0.8" transform="rotate(0 336.0 233.0)"/><ellipse cx="365.0" cy="319.0" rx="0.8" ry="0.8" transform="rotate(0 365.0 319.0)"/><ellipse cx="365.0" cy="324.0" rx="0.8" ry="0.8" transform="rotate(0 365.0 324.0)"/><ellipse cx="363.0" cy="329.6" rx="1.0" ry="0.8" transform="rotate(0 363.0 329.6)"/><ellipse cx="378.0" cy="337.0" rx="1.0" ry="0.8" transform="rotate(0 378.0 337.0)"/><ellipse cx="378.0" cy="340.0" rx="0.8" ry="0.8" transform="rotate(0 378.0 340.0)"/><ellipse cx="252.0" cy="422.0" rx="4.5" ry="2.5" transform="rotate(-20 252.0 422.0)"/><ellipse cx="247.0" cy="425.0" rx="2.0" ry="1.5" transform="rotate(0 247.0 425.0)"/><ellipse cx="288.0" cy="426.0" rx="2.0" ry="3.0" transform="rotate(20 288.0 426.0)"/><ellipse cx="292.0" cy="430.0" rx="1.5" ry="1.0" transform="rotate(0 292.0 430.0)"/><ellipse cx="270.0" cy="451.0" rx="1.5" ry="1.5" transform="rotate(0 270.0 451.0)"/><ellipse cx="254.0" cy="452.0" rx="1.5" ry="1.0" transform="rotate(0 254.0 452.0)"/><ellipse cx="278.0" cy="445.0" rx="1.0" ry="1.0" transform="rotate(0 278.0 445.0)"/><ellipse cx="226.0" cy="426.0" rx="1.0" ry="1.5" transform="rotate(0 226.0 426.0)"/><ellipse cx="225.0" cy="430.0" rx="1.0" ry="1.0" transform="rotate(0 225.0 430.0)"/><ellipse cx="227.0" cy="435.0" rx="1.0" ry="1.0" transform="rotate(0 227.0 435.0)"/><ellipse cx="232.0" cy="438.0" rx="1.5" ry="1.0" transform="rotate(0 232.0 438.0)"/><ellipse cx="258.0" cy="347.0" rx="1.0" ry="1.0" transform="rotate(0 258.0 347.0)"/><ellipse cx="211.0" cy="324.5" rx="1.0" ry="0.8" transform="rotate(0 211.0 324.5)"/><ellipse cx="164.7" cy="378.7" rx="1.5" ry="2.0" transform="rotate(0 164.7 378.7)"/><ellipse cx="158.8" cy="374.7" rx="1.5" ry="1.0" transform="rotate(0 158.8 374.7)"/><ellipse cx="160.0" cy="369.0" rx="1.0" ry="1.0" transform="rotate(0 160.0 369.0)"/><ellipse cx="464.6" cy="381.1" rx="2.0" ry="1.0" transform="rotate(-30 464.6 381.1)"/><ellipse cx="449.3" cy="380.3" rx="2.0" ry="1.0" transform="rotate(-40 449.3 380.3)"/><ellipse cx="450.9" cy="389.1" rx="2.0" ry="1.0" transform="rotate(-30 450.9 389.1)"/><ellipse cx="442.9" cy="394.0" rx="2.5" ry="1.0" transform="rotate(-30 442.9 394.0)"/><ellipse cx="438.0" cy="395.6" rx="1.5" ry="1.0" transform="rotate(0 438.0 395.6)"/><ellipse cx="439.6" cy="384.3" rx="1.0" ry="1.0" transform="rotate(0 439.6 384.3)"/><ellipse cx="514.7" cy="417.0" rx="1.5" ry="3.0" transform="rotate(10 514.7 417.0)"/><ellipse cx="513.2" cy="427.5" rx="1.0" ry="1.5" transform="rotate(0 513.2 427.5)"/><ellipse cx="512.6" cy="433.9" rx="1.0" ry="1.5" transform="rotate(0 512.6 433.9)"/><ellipse cx="536.5" cy="401.0" rx="1.0" ry="1.0" transform="rotate(0 536.5 401.0)"/><ellipse cx="547.0" cy="436.0" rx="1.0" ry="1.0" transform="rotate(0 547.0 436.0)"/><ellipse cx="539.7" cy="456.2" rx="1.0" ry="1.5" transform="rotate(0 539.7 456.2)"/><ellipse cx="401.0" cy="366.9" rx="2.0" ry="1.5" transform="rotate(0 401.0 366.9)"/><ellipse cx="405.0" cy="365.0" rx="1.0" ry="1.0" transform="rotate(0 405.0 365.0)"/><ellipse cx="438.0" cy="302.0" rx="1.5" ry="2.0" transform="rotate(0 438.0 302.0)"/><ellipse cx="442.0" cy="306.0" rx="1.0" ry="1.0" transform="rotate(0 442.0 306.0)"/><ellipse cx="453.0" cy="313.0" rx="1.0" ry="1.0" transform="rotate(0 453.0 313.0)"/><ellipse cx="432.4" cy="313.1" rx="2.5" ry="3.0" transform="rotate(0 432.4 313.1)"/><ellipse cx="400.3" cy="355.6" rx="1.5" ry="1.0" transform="rotate(0 400.3 355.6)"/><ellipse cx="466.0" cy="42.0" rx="2.0" ry="1.5" transform="rotate(0 466.0 42.0)"/><ellipse cx="462.0" cy="47.0" rx="2.0" ry="2.0" transform="rotate(0 462.0 47.0)"/><ellipse cx="464.0" cy="53.0" rx="1.5" ry="1.5" transform="rotate(0 464.0 53.0)"/><ellipse cx="458.0" cy="60.0" rx="2.0" ry="1.5" transform="rotate(0 458.0 60.0)"/><ellipse cx="462.0" cy="62.0" rx="1.5" ry="1.0" transform="rotate(0 462.0 62.0)"/><ellipse cx="455.0" cy="66.0" rx="1.5" ry="1.5" transform="rotate(0 455.0 66.0)"/><ellipse cx="452.0" cy="71.0" rx="1.5" ry="1.0" transform="rotate(0 452.0 71.0)"/><ellipse cx="449.0" cy="77.0" rx="1.5" ry="1.5" transform="rotate(0 449.0 77.0)"/><ellipse cx="445.0" cy="84.0" rx="1.5" ry="1.0" transform="rotate(0 445.0 84.0)"/><ellipse cx="438.0" cy="90.0" rx="2.0" ry="1.5" transform="rotate(0 438.0 90.0)"/><ellipse cx="436.0" cy="97.0" rx="1.5" ry="1.5" transform="rotate(0 436.0 97.0)"/><ellipse cx="433.0" cy="103.0" rx="1.5" ry="1.5" transform="rotate(0 433.0 103.0)"/><ellipse cx="424.0" cy="112.0" rx="1.5" ry="1.5" transform="rotate(0 424.0 112.0)"/><ellipse cx="419.0" cy="117.0" rx="1.5" ry="1.0" transform="rotate(0 419.0 117.0)"/><ellipse cx="412.0" cy="123.0" rx="2.0" ry="1.5" transform="rotate(0 412.0 123.0)"/><ellipse cx="408.0" cy="129.0" rx="1.5" ry="1.0" transform="rotate(0 408.0 129.0)"/><ellipse cx="402.0" cy="134.0" rx="1.5" ry="1.0" transform="rotate(0 402.0 134.0)"/><ellipse cx="396.0" cy="139.0" rx="1.5" ry="1.0" transform="rotate(0 396.0 139.0)"/><ellipse cx="352.5" cy="147.0" rx="2.0" ry="4.0" transform="rotate(0 352.5 147.0)"/><ellipse cx="360.0" cy="154.0" rx="4.5" ry="2.5" transform="rotate(-20 360.0 154.0)"/><ellipse cx="356.0" cy="150.0" rx="1.5" ry="1.5" transform="rotate(0 356.0 150.0)"/><ellipse cx="347.0" cy="157.0" rx="1.5" ry="1.0" transform="rotate(0 347.0 157.0)"/><ellipse cx="340.0" cy="160.0" rx="1.5" ry="1.0" transform="rotate(0 340.0 160.0)"/><ellipse cx="330.0" cy="163.0" rx="1.5" ry="1.0" transform="rotate(0 330.0 163.0)"/><ellipse cx="320.0" cy="166.0" rx="1.5" ry="1.0" transform="rotate(0 320.0 166.0)"/><ellipse cx="224.0" cy="452.0" rx="5.0" ry="3.5" transform="rotate(0 224.0 452.0)"/><ellipse cx="230.0" cy="454.0" rx="4.0" ry="3.0" transform="rotate(0 230.0 454.0)"/><ellipse cx="226.0" cy="458.0" rx="3.0" ry="2.5" transform="rotate(0 226.0 458.0)"/><ellipse cx="231.0" cy="450.0" rx="2.5" ry="1.5" transform="rotate(0 231.0 450.0)"/><ellipse cx="221.0" cy="449.0" rx="2.0" ry="1.5" transform="rotate(0 221.0 449.0)"/><ellipse cx="233.0" cy="457.0" rx="1.5" ry="1.5" transform="rotate(0 233.0 457.0)"/><ellipse cx="228.0" cy="462.0" rx="2.0" ry="1.5" transform="rotate(0 228.0 462.0)"/><ellipse cx="223.0" cy="461.0" rx="1.5" ry="1.0" transform="rotate(0 223.0 461.0)"/><ellipse cx="468.0" cy="293.6" rx="1.0" ry="3.0" transform="rotate(0 468.0 293.6)"/><ellipse cx="484.0" cy="289.5" rx="1.0" ry="3.5" transform="rotate(-40 484.0 289.5)"/><ellipse cx="493.0" cy="291.5" rx="1.0" ry="2.5" transform="rotate(-40 493.0 291.5)"/><ellipse cx="475.8" cy="321.0" rx="1.5" ry="1.5" transform="rotate(0 475.8 321.0)"/><ellipse cx="489.0" cy="340.5" rx="1.5" ry="1.0" transform="rotate(0 489.0 340.5)"/><ellipse cx="504.0" cy="340.5" rx="1.0" ry="1.0" transform="rotate(0 504.0 340.5)"/><ellipse cx="501.6" cy="307.0" rx="1.5" ry="1.5" transform="rotate(0 501.6 307.0)"/><ellipse cx="467.6" cy="262.5" rx="1.5" ry="2.5" transform="rotate(0 467.6 262.5)"/><ellipse cx="442.0" cy="276.0" rx="1.5" ry="1.0" transform="rotate(0 442.0 276.0)"/><ellipse cx="463.0" cy="300.0" rx="1.0" ry="1.0" transform="rotate(0 463.0 300.0)"/><ellipse cx="470.0" cy="299.0" rx="1.0" ry="1.0" transform="rotate(0 470.0 299.0)"/><ellipse cx="479.0" cy="304.0" rx="1.0" ry="1.0" transform="rotate(0 479.0 304.0)"/><ellipse cx="497.0" cy="308.0" rx="1.0" ry="1.0" transform="rotate(0 497.0 308.0)"/><ellipse cx="459.0" cy="279.0" rx="1.5" ry="1.0" transform="rotate(0 459.0 279.0)"/><ellipse cx="472.0" cy="285.0" rx="1.0" ry="1.0" transform="rotate(0 472.0 285.0)"/><ellipse cx="478.0" cy="291.0" rx="1.0" ry="1.0" transform="rotate(0 478.0 291.0)"/><ellipse cx="510.0" cy="330.0" rx="1.5" ry="1.5" transform="rotate(0 510.0 330.0)"/><ellipse cx="512.0" cy="326.0" rx="1.0" ry="1.5" transform="rotate(0 512.0 326.0)"/><ellipse cx="426.0" cy="45.0" rx="1.5" ry="1.0" transform="rotate(0 426.0 45.0)"/><ellipse cx="443.0" cy="298.0" rx="2.0" ry="2.5" transform="rotate(0 443.0 298.0)"/><ellipse cx="439.0" cy="303.0" rx="1.5" ry="1.5" transform="rotate(0 439.0 303.0)"/><ellipse cx="432.0" cy="311.0" rx="2.5" ry="4.0" transform="rotate(0 432.0 311.0)"/><ellipse cx="458.0" cy="262.0" rx="1.5" ry="1.5" transform="rotate(0 458.0 262.0)"/><ellipse cx="469.0" cy="258.0" rx="1.0" ry="1.5" transform="rotate(0 469.0 258.0)"/><ellipse cx="474.0" cy="264.0" rx="1.5" ry="1.0" transform="rotate(0 474.0 264.0)"/><ellipse cx="456.9" cy="268.6" rx="1.0" ry="1.5" transform="rotate(0 456.9 268.6)"/></g>
<g fill="#c5c3c6" stroke="#000" stroke-width="1"><ellipse cx="279.0" cy="411.0" rx="2.5" ry="4.0" transform="rotate(0 279.0 411.0)"/><ellipse cx="531.3" cy="408.5" rx="1.5" ry="3.5" transform="rotate(10 531.3 408.5)"/><ellipse cx="467.8" cy="375.5" rx="2.0" ry="1.5" transform="rotate(0 467.8 375.5)"/><ellipse cx="455.7" cy="384.3" rx="2.5" ry="1.2" transform="rotate(-20 455.7 384.3)"/><ellipse cx="441.2" cy="300.3" rx="2.5" ry="2.0" transform="rotate(0 441.2 300.3)"/><ellipse cx="229.3" cy="451.5" rx="2.0" ry="1.5" transform="rotate(0 229.3 451.5)"/><ellipse cx="466.2" cy="282.5" rx="1.8" ry="1.8" transform="rotate(0 466.2 282.5)"/><ellipse cx="475.2" cy="295.2" rx="1.8" ry="1.5" transform="rotate(0 475.2 295.2)"/></g>
</g>
<g shape-rendering="crispEdges" fill="#000">
<rect x="153" y="36" width="424" height="3"/><rect x="153" y="465" width="424" height="2"/><rect x="153" y="36" width="2" height="431"/><rect x="575" y="36" width="2" height="431"/>
<rect x="168" y="39" width="1" height="4"/><rect x="168" y="461" width="1" height="4"/>
<rect x="196" y="39" width="1" height="4"/><rect x="196" y="461" width="1" height="4"/>
<rect x="223" y="39" width="1" height="4"/><rect x="223" y="461" width="1" height="4"/>
<rect x="250" y="39" width="1" height="4"/><rect x="250" y="461" width="1" height="4"/>
<rect x="277" y="39" width="1" height="4"/><rect x="277" y="461" width="1" height="4"/>
<rect x="304" y="39" width="1" height="4"/><rect x="304" y="461" width="1" height="4"/>
<rect x="332" y="39" width="1" height="4"/><rect x="332" y="461" width="1" height="4"/>
<rect x="359" y="39" width="1" height="4"/><rect x="359" y="461" width="1" height="4"/>
<rect x="386" y="39" width="1" height="4"/><rect x="386" y="461" width="1" height="4"/>
<rect x="413" y="39" width="1" height="4"/><rect x="413" y="461" width="1" height="4"/>
<rect x="440" y="39" width="1" height="4"/><rect x="440" y="461" width="1" height="4"/>
<rect x="468" y="39" width="1" height="4"/><rect x="468" y="461" width="1" height="4"/>
<rect x="495" y="39" width="1" height="4"/><rect x="495" y="461" width="1" height="4"/>
<rect x="522" y="39" width="1" height="4"/><rect x="522" y="461" width="1" height="4"/>
<rect x="549" y="39" width="1" height="4"/><rect x="549" y="461" width="1" height="4"/>
<rect x="576" y="39" width="1" height="4"/><rect x="576" y="461" width="1" height="4"/>
<rect x="155" y="438" width="4" height="1"/><rect x="571" y="438" width="4" height="1"/>
<rect x="155" y="411" width="4" height="1"/><rect x="571" y="411" width="4" height="1"/>
<rect x="155" y="384" width="4" height="1"/><rect x="571" y="384" width="4" height="1"/>
<rect x="155" y="356" width="4" height="1"/><rect x="571" y="356" width="4" height="1"/>
<rect x="155" y="329" width="4" height="1"/><rect x="571" y="329" width="4" height="1"/>
<rect x="155" y="301" width="4" height="1"/><rect x="571" y="301" width="4" height="1"/>
<rect x="155" y="273" width="4" height="1"/><rect x="571" y="273" width="4" height="1"/>
<rect x="155" y="245" width="4" height="1"/><rect x="571" y="245" width="4" height="1"/>
<rect x="155" y="217" width="4" height="1"/><rect x="571" y="217" width="4" height="1"/>
<rect x="155" y="188" width="4" height="1"/><rect x="571" y="188" width="4" height="1"/>
<rect x="155" y="159" width="4" height="1"/><rect x="571" y="159" width="4" height="1"/>
<rect x="155" y="129" width="4" height="1"/><rect x="571" y="129" width="4" height="1"/>
<rect x="155" y="99" width="4" height="1"/><rect x="571" y="99" width="4" height="1"/>
<rect x="155" y="69" width="4" height="1"/><rect x="571" y="69" width="4" height="1"/>
</g>
<g font-family="Liberation Sans, sans-serif" fill="#000070">
<text x="365.5" y="20" font-size="13.4" text-anchor="middle" textLength="255" lengthAdjust="spacingAndGlyphs">Significant Wave Height with Wave Direction</text>
<text x="366" y="31" font-size="12" font-style="italic" text-anchor="middle" textLength="184" lengthAdjust="spacingAndGlyphs">Valid For Mar-08-2018 18:00 GMT</text>
<text x="155.6" y="496.7" font-size="13" textLength="90" lengthAdjust="spacingAndGlyphs">oceanweather inc.</text>
<text x="458.4" y="494" font-size="8" font-style="italic" textLength="117" lengthAdjust="spacingAndGlyphs" stroke="#000070" stroke-width="0.2">Plotted at Mar 08, 2018 15:10 GMT</text>
<text x="295.2" y="509" font-size="9.5" textLength="138.8" lengthAdjust="spacingAndGlyphs">Significant Wave Height (Meters)</text>
<text x="299.8" y="556.5" font-size="9.5" textLength="130.3" lengthAdjust="spacingAndGlyphs">Significant Wave Height (Feet)</text>
<text x="246.5" y="520.5" font-size="9.33" text-anchor="middle">0</text>
<text x="266.5" y="520.5" font-size="9.33" text-anchor="middle">1</text>
<text x="286.5" y="520.5" font-size="9.33" text-anchor="middle">2</text>
<text x="306.5" y="520.5" font-size="9.33" text-anchor="middle">3</text>
<text x="326.5" y="520.5" font-size="9.33" text-anchor="middle">4</text>
<text x="346.5" y="520.5" font-size="9.33" text-anchor="middle">5</text>
<text x="366.5" y="520.5" font-size="9.33" text-anchor="middle">6</text>
<text x="386.5" y="520.5" font-size="9.33" text-anchor="middle">7</text>
<text x="406.5" y="520.5" font-size="9.33" text-anchor="middle">8</text>
<text x="426.5" y="520.5" font-size="9.33" text-anchor="middle">9</text>
<text x="446.5" y="520.5" font-size="9.33" text-anchor="middle">10</text>
<text x="466.5" y="520.5" font-size="9.33" text-anchor="middle">11</text>
<text x="486.5" y="520.5" font-size="9.33" text-anchor="middle">12</text>
<text x="246.5" y="544.5" font-size="9.33" text-anchor="middle">0</text>
<text x="276.7" y="544.5" font-size="9.33" text-anchor="middle">5</text>
<text x="306.9" y="544.5" font-size="9.33" text-anchor="middle">10</text>
<text x="337.1" y="544.5" font-size="9.33" text-anchor="middle">15</text>
<text x="367.3" y="544.5" font-size="9.33" text-anchor="middle">20</text>
<text x="397.5" y="544.5" font-size="9.33" text-anchor="middle">25</text>
<text x="427.7" y="544.5" font-size="9.33" text-anchor="middle">30</text>
<text x="457.9" y="544.5" font-size="9.33" text-anchor="middle">35</text>
<text x="488.1" y="544.5" font-size="9.33" text-anchor="middle">40</text>
</g>
<g font-family="Liberation Sans, sans-serif" fill="#000" font-style="italic" font-size="10.7">
<text x="157.6" y="482.6">100 E</text>
<text x="225.6" y="482.6">105 E</text>
<text x="293.6" y="482.6">110 E</text>
<text x="361.6" y="482.6">115 E</text>
<text x="429.6" y="482.6">120 E</text>
<text x="497.6" y="482.6">125 E</text>
<text x="565.6" y="482.6">130 E</text>
<text x="583.6" y="401.4">5 N</text>
<text x="583.6" y="332.8">10 N</text>
<text x="583.6" y="263.1">15 N</text>
<text x="583.6" y="191.8">20 N</text>
<text x="583.6" y="118.2">25 N</text>
<text x="583.6" y="41.5">30 N</text>
<text x="584" y="468">0</text>
</g>
<defs><linearGradient id="cb" x1="0" x2="1" y1="0" y2="0"><stop offset="0" stop-color="#00f"/><stop offset="0.25" stop-color="#0ff"/><stop offset="0.5" stop-color="#0f0"/><stop offset="0.75" stop-color="#ff0"/><stop offset="1" stop-color="#f00"/></linearGradient></defs>
<rect x="245" y="524" width="241" height="13" fill="url(#cb)"/><rect x="245" y="524" width="2" height="13" fill="#000"/>
</svg>
</body></html>
